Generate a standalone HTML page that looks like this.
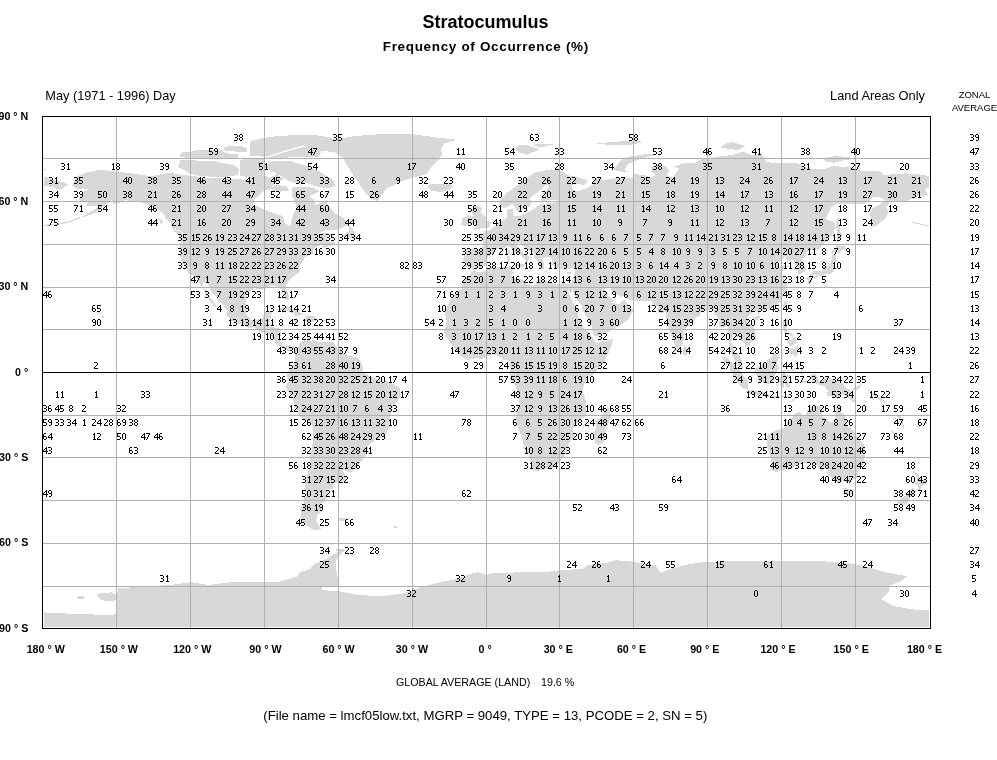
<!DOCTYPE html>
<html><head><meta charset="utf-8"><style>
html,body{margin:0;padding:0;background:#fff;}
body{width:997px;height:760px;overflow:hidden;position:relative;}
svg{position:absolute;left:0;top:0;font-family:"Liberation Sans",sans-serif;will-change:transform;}
.lat text{font-size:10.7px;font-weight:bold;text-anchor:end;}
.lon text{font-size:10.7px;font-weight:bold;text-anchor:middle;}
</style></head><body>
<svg width="997" height="760" viewBox="0 0 997 760">
<defs><path id="d0" d="M1 0h2v1h-2zM0 1h1v1h-1zM3 1h1v1h-1zM0 2h1v1h-1zM3 2h1v1h-1zM0 3h1v1h-1zM3 3h1v1h-1zM0 4h1v1h-1zM3 4h1v1h-1zM0 5h1v1h-1zM3 5h1v1h-1zM1 6h2v1h-2z"/><path id="d1" d="M2 0h1v1h-1zM1 1h2v1h-2zM2 2h1v1h-1zM2 3h1v1h-1zM2 4h1v1h-1zM2 5h1v1h-1zM1 6h3v1h-3z"/><path id="d2" d="M0 0h3v1h-3zM3 1h1v1h-1zM3 2h1v1h-1zM2 3h1v1h-1zM1 4h1v1h-1zM0 5h1v1h-1zM0 6h4v1h-4z"/><path id="d3" d="M0 0h3v1h-3zM3 1h1v1h-1zM3 2h1v1h-1zM1 3h2v1h-2zM3 4h1v1h-1zM3 5h1v1h-1zM0 6h3v1h-3z"/><path id="d4" d="M3 0h1v1h-1zM2 1h2v1h-2zM1 2h1v1h-1zM3 2h1v1h-1zM0 3h1v1h-1zM3 3h1v1h-1zM0 4h5v1h-5zM3 5h1v1h-1zM3 6h1v1h-1z"/><path id="d5" d="M0 0h4v1h-4zM0 1h1v1h-1zM0 2h1v1h-1zM0 3h3v1h-3zM3 4h1v1h-1zM3 5h1v1h-1zM0 6h3v1h-3z"/><path id="d6" d="M1 0h2v1h-2zM0 1h1v1h-1zM0 2h1v1h-1zM0 3h3v1h-3zM0 4h1v1h-1zM3 4h1v1h-1zM0 5h1v1h-1zM3 5h1v1h-1zM1 6h2v1h-2z"/><path id="d7" d="M0 0h4v1h-4zM3 1h1v1h-1zM2 2h1v1h-1zM2 3h1v1h-1zM1 4h1v1h-1zM1 5h1v1h-1zM0 6h1v1h-1z"/><path id="d8" d="M1 0h2v1h-2zM0 1h1v1h-1zM3 1h1v1h-1zM0 2h1v1h-1zM3 2h1v1h-1zM1 3h2v1h-2zM0 4h1v1h-1zM3 4h1v1h-1zM0 5h1v1h-1zM3 5h1v1h-1zM1 6h2v1h-2z"/><path id="d9" d="M1 0h2v1h-2zM0 1h1v1h-1zM3 1h1v1h-1zM0 2h1v1h-1zM3 2h1v1h-1zM1 3h3v1h-3zM3 4h1v1h-1zM3 5h1v1h-1zM1 6h2v1h-2z"/><clipPath id="mc"><rect x="44" y="117" width="885" height="510"/></clipPath></defs>
<g shape-rendering="crispEdges" clip-path="url(#mc)">
<polygon points="72.1,185.9 77.0,176.5 86.9,172.5 100.5,169.7 111.6,171.1 128.8,173.1 138.7,174.5 151.0,176.2 158.4,174.8 170.8,172.8 180.6,174.8 195.4,176.2 205.3,178.5 220.1,178.2 230.0,179.1 244.8,179.6 252.2,176.8 254.6,168.3 259.6,173.4 269.4,177.7 276.8,174.0 284.2,179.1 274.4,183.3 270.7,189.0 264.5,190.5 254.6,199.0 253.4,204.7 257.1,206.1 269.4,211.8 283.0,216.1 284.2,223.2 290.4,226.0 292.1,217.5 296.6,207.5 294.1,200.4 295.3,194.7 304.0,195.3 313.8,199.0 315.1,204.7 326.2,201.0 328.6,206.1 334.8,213.2 344.7,218.9 349.1,223.7 345.9,226.0 338.5,229.7 327.4,229.7 321.2,232.3 314.6,235.4 323.7,232.8 328.1,233.4 326.2,237.4 327.4,241.1 336.0,242.8 338.5,241.7 329.9,245.9 323.7,248.2 321.2,245.1 313.8,247.9 312.6,253.0 313.8,254.2 308.9,255.3 304.0,257.3 304.0,260.1 301.5,262.1 299.0,267.3 300.3,271.5 296.6,274.4 291.6,278.1 286.7,282.9 286.0,287.2 288.9,295.7 288.9,300.0 286.7,300.8 284.7,297.1 282.3,292.9 281.8,289.4 278.1,287.2 274.4,286.0 268.2,286.0 265.7,289.4 262.0,289.2 254.6,288.3 246.5,293.7 246.0,301.4 245.5,309.9 246.7,315.6 249.7,318.5 253.4,320.7 259.6,319.6 263.3,317.0 263.8,312.8 271.9,311.3 270.7,317.0 268.7,322.7 268.2,327.3 274.4,327.3 279.3,328.4 281.0,331.3 280.0,341.2 284.2,346.9 290.4,345.2 295.8,348.3 292.9,349.7 287.9,351.7 285.0,349.2 279.3,345.5 275.1,344.1 275.1,340.6 270.7,335.5 260.8,332.7 254.6,327.0 248.5,327.8 239.8,324.1 231.2,320.4 226.3,314.2 227.0,310.5 223.8,305.7 217.6,298.5 210.2,290.0 207.8,283.5 203.3,282.3 203.3,287.2 209.0,295.7 215.2,303.7 216.4,307.1 214.4,306.5 210.2,302.0 205.3,293.4 202.8,287.7 199.1,282.0 197.2,278.6 194.2,275.8 189.0,274.1 184.3,265.8 181.1,260.1 179.9,254.5 180.6,241.7 178.9,234.8 183.1,235.4 184.3,233.1 178.2,230.3 172.0,228.0 170.8,223.2 165.8,218.9 164.6,214.6 158.4,209.5 151.0,206.1 142.4,202.7 133.8,201.8 125.1,200.1 117.7,203.3 112.8,204.1 112.1,199.8 107.1,203.8 101.7,208.9 95.5,212.6 86.9,216.1 80.0,217.5 86.9,213.8 96.8,208.1 99.2,205.5 86.9,205.8 86.9,201.8 79.0,200.4 80.7,193.3 89.4,189.0 77.0,189.0" fill="#d8d8d8"/>
<polygon points="274.4,184.8 286.7,186.2 289.2,191.0 276.8,191.9 270.7,189.0" fill="#d8d8d8"/>
<polygon points="340.0,237.1 348.4,231.7 349.6,226.0 354.5,231.7 356.5,237.4 354.5,239.9 348.4,237.1" fill="#d8d8d8"/>
<polygon points="169.8,228.0 180.6,231.7 182.4,234.8 176.9,233.4" fill="#d8d8d8"/>
<polygon points="158.4,218.3 163.4,220.3 162.1,224.6 159.7,221.7" fill="#d8d8d8"/>
<polygon points="276.8,310.2 284.2,306.5 289.2,307.1 296.6,310.5 303.5,315.0 295.3,315.9 294.1,313.6 286.7,311.1 283.0,311.1" fill="#d8d8d8"/>
<polygon points="302.7,320.2 306.9,315.9 313.8,316.5 318.0,319.6 311.4,322.2" fill="#d8d8d8"/>
<polygon points="293.4,320.2 298.5,320.7 298.3,321.9 295.3,321.9" fill="#d8d8d8"/>
<polygon points="320.7,319.9 324.7,320.2 324.7,321.3 320.7,321.3" fill="#d8d8d8"/>
<polygon points="295.8,348.3 299.0,345.5 300.3,342.6 304.0,340.6 308.4,338.7 310.6,337.2 310.1,341.2 313.8,339.8 318.8,342.3 323.7,342.3 328.6,342.1 333.6,342.3 336.0,346.9 341.0,349.7 344.7,355.4 350.8,355.7 358.2,358.3 360.7,361.1 363.2,367.4 363.2,372.5 368.1,375.3 376.7,379.6 385.4,381.0 391.5,383.0 399.7,388.1 400.7,393.8 399.7,398.1 395.2,403.8 391.5,409.5 390.3,418.0 388.6,428.0 385.4,435.1 382.9,437.9 376.7,438.8 368.1,445.0 366.9,453.6 361.9,460.7 355.8,468.4 352.1,471.5 347.1,471.5 342.4,469.2 344.7,474.9 345.9,480.6 333.6,483.4 332.8,488.6 326.2,489.1 327.9,493.4 324.9,500.5 320.0,504.8 323.7,509.0 317.5,515.3 316.3,520.4 317.5,523.3 321.2,528.9 316.3,530.4 311.4,528.9 304.0,523.3 301.5,517.6 300.3,509.0 304.0,503.3 304.0,497.7 306.4,492.0 304.7,483.4 306.4,477.7 310.1,466.4 310.1,457.8 312.6,443.6 313.3,429.4 311.4,423.7 300.3,416.6 297.8,410.9 295.3,406.6 291.6,395.3 286.7,389.6 286.2,385.3 289.2,381.0 286.7,375.3 289.2,369.7 292.1,367.4 295.3,361.7 295.3,354.0 294.3,351.2" fill="#d8d8d8"/>
<polygon points="338.5,518.1 347.1,518.1 347.1,521.3 338.5,521.3" fill="#d8d8d8"/>
<polygon points="472.7,270.1 471.0,267.8 468.0,266.7 464.3,267.3 464.8,262.4 463.1,260.1 464.8,253.0 463.6,250.2 466.8,248.2 476.6,249.1 482.1,249.1 483.5,241.7 481.1,238.2 475.4,236.3 474.9,234.3 482.8,234.0 483.3,231.1 487.0,231.7 490.4,229.7 493.9,226.9 496.4,224.9 498.3,221.7 503.8,220.3 507.5,217.5 507.0,211.8 507.5,209.5 512.6,208.7 512.6,211.8 513.6,216.1 519.6,216.1 529.4,211.8 534.4,208.7 539.3,205.0 545.2,203.8 555.6,202.4 559.3,201.0 555.6,199.8 545.2,200.7 540.8,200.4 542.0,195.3 546.9,189.0 549.4,185.3 545.7,185.3 539.5,190.5 532.1,196.1 529.7,199.0 532.1,201.8 529.4,206.7 519.6,210.9 516.8,210.9 514.9,206.7 513.6,204.7 512.2,203.8 507.5,207.0 503.8,207.8 500.1,205.8 499.3,201.8 500.3,199.6 507.2,192.7 517.1,185.6 527.2,177.9 534.1,172.8 543.7,170.8 551.6,169.4 561.5,170.8 567.9,175.4 575.3,176.2 587.6,180.5 585.2,184.8 572.8,183.9 571.6,189.0 577.8,191.0 585.2,189.0 593.8,184.2 595.0,178.2 600.0,179.1 604.9,179.9 617.2,177.7 622.2,178.5 632.0,177.7 634.5,174.0 644.4,175.1 651.8,177.7 655.5,174.8 651.0,171.4 650.5,167.7 656.7,164.9 665.3,166.0 669.0,170.5 666.6,176.2 672.7,177.7 678.9,169.1 674.0,166.3 683.8,163.4 696.2,162.6 701.1,159.2 720.8,156.3 733.2,154.9 743.0,151.5 750.4,154.9 762.8,155.5 766.5,162.0 777.6,163.4 792.4,162.9 799.8,163.7 804.7,167.7 812.1,169.1 824.4,169.1 831.8,166.3 849.1,166.8 861.4,171.1 873.8,170.5 881.2,172.0 883.6,174.8 896.0,174.2 905.8,173.4 915.7,174.0 925.6,175.4 931.7,176.5 931.7,187.3 925.6,188.5 924.3,189.0 926.8,191.9 928.0,195.3 920.6,195.6 915.7,196.7 908.3,200.1 905.8,201.8 896.0,201.5 889.8,202.4 886.1,207.5 888.6,211.8 886.1,217.5 881.2,221.7 877.5,224.6 873.0,227.4 871.3,221.7 870.1,213.2 872.5,208.1 877.5,206.1 884.9,200.4 881.2,197.6 873.8,197.0 866.4,203.3 859.0,204.1 846.6,203.5 836.8,204.1 831.8,206.7 825.7,218.9 833.1,221.7 835.5,224.6 833.1,234.5 826.9,240.2 819.5,248.8 812.1,250.2 807.2,251.6 805.9,255.9 802.2,258.7 801.0,260.1 805.9,267.3 805.4,271.5 799.8,274.1 798.0,274.4 798.5,265.8 794.8,264.4 794.1,259.3 787.4,261.6 785.5,256.4 780.0,261.0 777.1,263.8 780.0,267.0 784.2,265.0 788.7,266.7 783.2,270.1 780.5,272.9 783.7,278.6 786.9,282.3 787.2,284.9 787.4,287.7 786.2,291.4 782.5,297.1 781.3,300.8 776.3,305.4 772.6,307.6 766.5,309.4 760.3,311.3 758.6,314.8 757.1,311.3 752.9,311.3 749.2,314.8 747.2,318.5 749.7,323.3 754.9,329.0 756.1,338.4 754.1,341.2 750.4,342.9 749.2,345.2 745.5,348.0 745.0,343.2 741.8,342.3 739.3,337.8 735.1,336.1 733.2,334.1 731.2,342.6 732.9,346.3 734.2,351.7 736.4,353.2 739.3,355.4 741.6,359.7 741.8,364.5 743.5,368.5 741.8,368.8 736.4,364.5 733.9,358.3 729.0,349.7 729.0,344.3 729.7,338.4 727.5,325.6 721.8,327.6 718.9,326.7 719.6,319.9 717.1,317.0 714.2,313.6 712.9,309.1 709.7,309.9 705.5,311.1 701.1,311.3 699.9,315.6 696.2,317.6 692.0,322.7 689.3,325.3 684.6,328.4 684.3,334.1 683.3,343.2 681.1,346.3 677.7,349.7 675.2,347.2 673.5,339.8 670.8,334.1 667.8,327.0 666.1,317.0 665.8,312.2 660.4,313.3 656.7,309.1 659.7,307.4 655.5,305.4 653.0,304.2 651.0,300.5 645.6,300.8 638.4,300.8 631.5,300.0 627.8,299.1 625.9,295.4 620.9,296.8 614.8,293.4 611.8,290.3 610.3,286.9 606.1,287.2 604.9,288.6 606.1,292.3 608.6,295.7 610.3,298.0 613.5,298.8 612.3,302.5 616.0,303.7 619.7,303.9 624.6,298.5 625.6,302.0 629.1,305.1 632.0,308.5 634.0,309.1 630.8,314.5 628.8,318.5 625.4,321.6 622.2,324.1 615.3,328.1 607.4,332.4 597.5,336.1 593.8,336.4 592.6,331.3 591.8,325.6 588.9,319.9 585.2,314.2 582.7,310.5 581.5,305.4 577.8,300.0 573.3,292.9 572.6,288.6 570.9,293.4 569.1,291.4 566.9,287.5 566.2,283.8 570.9,283.5 572.8,279.2 575.1,272.9 575.3,268.4 571.6,267.8 566.7,269.8 561.7,269.2 556.8,267.8 553.8,265.8 551.4,263.6 551.9,260.1 551.1,258.4 551.4,257.0 545.7,256.7 544.5,258.2 542.2,257.3 543.2,260.7 544.5,264.4 543.5,268.7 542.0,269.0 540.0,267.8 538.5,265.0 539.0,263.3 536.3,259.9 534.4,257.6 534.6,253.9 532.1,251.6 527.2,248.8 523.7,246.5 520.0,244.2 520.5,242.8 516.8,243.6 517.3,245.9 520.0,248.8 522.8,252.7 526.5,254.7 532.1,258.2 529.7,257.9 528.4,260.7 526.2,264.4 525.2,264.4 525.5,259.9 523.5,258.2 520.3,255.3 516.6,253.6 513.6,251.6 512.4,248.8 508.7,246.2 505.5,247.9 501.3,249.9 497.6,248.8 494.4,249.6 494.4,253.3 489.0,255.9 487.7,257.3 485.8,260.1 487.0,262.4 484.8,265.5 481.3,268.1 475.6,268.1" fill="#d8d8d8"/>
<polygon points="41.3,176.5 47.4,177.4 54.8,180.2 62.2,181.9 67.9,184.5 64.7,186.8 61.5,189.3 58.5,189.3 52.4,187.0 46.2,186.2 41.3,187.3" fill="#d8d8d8"/>
<polygon points="566.9,287.5 569.1,294.3 574.1,304.2 578.3,312.8 578.8,319.9 581.7,321.9 583.4,327.6 587.6,331.5 591.3,335.5 593.3,338.7 596.3,342.9 602.4,340.9 608.6,340.4 612.8,338.9 612.3,342.9 611.1,346.9 606.1,358.3 600.0,366.8 593.8,373.9 588.9,377.6 585.2,382.5 582.7,389.6 583.9,395.3 586.4,402.4 586.4,415.2 577.8,422.3 572.8,429.4 574.1,436.5 567.9,445.0 567.2,450.7 563.0,457.8 555.6,466.4 549.4,469.2 540.8,469.8 535.8,471.5 532.1,469.8 530.9,463.5 529.2,455.0 524.7,449.3 522.3,437.9 518.6,429.4 515.6,422.3 516.8,412.3 519.8,406.6 519.1,399.5 516.6,389.6 516.1,386.7 509.9,378.2 509.4,372.5 510.4,365.4 510.2,361.7 507.5,359.7 503.8,360.0 498.8,356.0 493.2,354.6 489.0,355.7 481.6,359.1 476.6,357.7 468.0,360.0 464.3,358.3 458.1,352.9 453.7,347.5 449.5,341.5 445.3,337.2 444.1,330.7 445.8,326.4 447.0,321.3 445.8,317.0 444.6,312.8 448.3,304.2 451.5,297.4 454.4,293.7 461.8,288.6 462.6,282.9 465.5,277.8 469.7,275.5 471.9,270.7 481.6,272.7 489.0,268.7 495.1,267.8 503.8,267.0 510.7,266.4 513.6,267.3 511.7,271.5 513.6,272.4 511.2,275.8 514.9,278.1 518.6,278.9 524.2,280.6 525.2,283.2 533.4,286.3 535.8,284.3 535.8,280.9 539.5,279.2 543.2,279.8 548.2,282.3 558.0,284.6 563.0,282.6 566.2,283.8" fill="#d8d8d8"/>
<polygon points="472.4,230.3 479.1,228.6 486.5,228.0 490.0,226.6 490.7,222.6 487.2,220.6 486.0,217.5 482.6,214.3 480.3,212.6 482.1,208.7 478.4,205.8 474.2,205.8 472.4,208.9 471.2,211.8 472.9,214.9 474.4,216.1 479.1,216.3 478.1,218.0 479.1,220.9 475.2,220.9 476.1,224.0 473.7,225.4 476.6,226.6" fill="#d8d8d8"/>
<polygon points="471.7,224.0 471.7,220.3 472.9,217.5 468.5,215.2 465.5,217.2 461.8,218.3 461.8,221.7 461.1,225.2 465.5,225.7 470.7,224.0" fill="#d8d8d8"/>
<polygon points="431.0,190.5 427.3,186.2 432.2,183.6 442.1,184.2 450.7,183.9 453.0,187.0 449.5,189.6 440.9,192.2 434.7,191.0" fill="#d8d8d8"/>
<polygon points="513.6,149.2 518.6,145.5 526.0,144.9 530.9,146.4 539.5,149.2 533.4,152.1 527.2,154.9 521.0,152.9" fill="#d8d8d8"/>
<polygon points="530.9,146.1 538.3,143.5 553.1,144.4 543.2,146.9" fill="#d8d8d8"/>
<polygon points="597.5,143.5 609.8,142.1 634.5,140.7 644.4,142.1 629.6,144.9 609.8,145.2" fill="#d8d8d8"/>
<polygon points="613.5,169.1 618.5,163.4 623.4,158.6 629.6,156.6 639.4,155.2 649.3,153.8 656.2,154.6 646.8,157.2 637.0,160.0 629.6,163.4 625.9,166.3 624.6,170.5 628.3,171.7 617.2,171.4" fill="#d8d8d8"/>
<polygon points="720.8,147.8 725.8,143.5 733.2,142.1 745.5,146.4 738.1,149.8 730.7,149.2" fill="#d8d8d8"/>
<polygon points="822.0,158.3 836.8,155.8 851.6,157.7 859.0,158.6 846.6,159.7 834.3,162.6 826.9,162.0" fill="#d8d8d8"/>
<polygon points="926.8,170.0 931.7,168.8 931.7,170.8" fill="#d8d8d8"/>
<polygon points="41.3,168.8 48.7,170.0 41.3,170.8" fill="#d8d8d8"/>
<polygon points="838.5,217.8 839.7,224.6 840.5,231.7 843.4,234.3 839.2,238.8 840.5,241.4 836.8,241.7 836.5,238.8 836.8,230.3 835.8,224.6 836.8,220.3" fill="#d8d8d8"/>
<polygon points="831.3,252.5 833.1,249.6 835.5,249.3 836.3,243.4 839.2,245.9 844.9,246.5 846.1,249.3 841.7,250.5 840.0,253.0 834.3,251.6 832.3,254.5" fill="#d8d8d8"/>
<polygon points="835.5,254.5 836.8,260.1 834.3,263.6 834.3,268.7 833.8,271.5 831.3,272.9 828.9,274.1 824.4,274.1 822.0,277.2 819.5,274.9 814.6,274.9 809.6,275.8 809.6,274.4 813.3,271.5 817.0,271.2 822.0,270.7 823.9,266.4 828.1,265.8 830.6,263.0 831.8,258.7 831.8,255.0" fill="#d8d8d8"/>
<polygon points="807.2,276.6 811.6,276.4 812.1,280.1 810.4,283.5 808.4,284.3 807.7,280.1 806.4,278.6" fill="#d8d8d8"/>
<polygon points="813.6,275.8 818.3,275.2 818.8,276.4 817.0,277.8 814.6,279.2 813.3,277.8" fill="#d8d8d8"/>
<polygon points="782.7,307.1 785.0,300.8 787.4,301.4 786.2,307.1 784.5,310.2" fill="#d8d8d8"/>
<polygon points="754.4,317.6 759.1,315.3 760.3,316.7 757.8,320.4 754.6,319.9" fill="#d8d8d8"/>
<polygon points="782.5,319.9 788.2,319.9 787.9,324.1 786.2,328.4 787.4,332.7 792.4,333.2 792.9,336.7 789.9,335.5 786.2,333.2 784.0,332.1 782.5,327.0" fill="#d8d8d8"/>
<polygon points="787.4,352.6 791.1,348.0 793.6,348.3 797.3,345.5 798.5,351.2 797.3,354.9 795.6,356.6 792.4,354.0 787.9,353.2" fill="#d8d8d8"/>
<polygon points="787.2,338.7 791.1,339.8 793.1,336.9 796.1,337.5 796.6,341.2 794.8,344.1 791.1,346.3 788.7,344.6 787.2,342.6" fill="#d8d8d8"/>
<polygon points="775.6,348.6 781.3,342.6 781.8,340.4 778.8,343.2" fill="#d8d8d8"/>
<polygon points="755.4,368.2 760.3,365.4 765.2,363.4 767.7,359.7 771.4,357.7 774.4,352.9 776.8,355.4 780.5,357.7 777.6,360.3 776.8,363.4 779.5,369.1 777.1,370.5 775.1,375.3 773.9,378.2 773.9,382.5 768.9,383.9 762.8,382.5 758.3,381.0 757.8,376.8 755.4,372.5" fill="#d8d8d8"/>
<polygon points="721.6,356.6 727.0,357.7 733.2,364.0 736.1,366.8 741.8,372.5 743.0,375.3 748.0,381.0 747.7,389.0 744.3,389.3 738.8,383.9 735.4,378.2 730.7,371.9 729.5,367.4 724.5,362.5" fill="#d8d8d8"/>
<polygon points="746.0,391.8 748.0,389.3 753.6,390.1 759.1,392.1 764.2,392.1 769.2,394.4 768.7,397.2 760.3,395.8 752.9,394.7 746.7,392.4" fill="#d8d8d8"/>
<polygon points="770.2,395.8 780.0,395.8 789.9,395.8 789.9,397.2 780.0,397.5 770.2,397.5" fill="#d8d8d8"/>
<polygon points="791.1,401.5 794.8,398.1 800.5,396.4 794.8,399.5 792.4,401.5" fill="#d8d8d8"/>
<polygon points="779.5,380.5 781.3,373.9 783.7,370.2 789.9,369.9 795.1,367.9 793.6,371.4 785.0,371.4 785.7,375.3 790.9,375.1 786.4,377.9 788.4,382.2 789.9,385.3 787.4,387.9 785.0,383.9 783.5,380.5 783.5,388.1 781.0,388.4" fill="#d8d8d8"/>
<polygon points="801.0,366.8 803.5,368.2 802.2,372.5 803.5,375.3 801.0,373.9 801.0,369.7" fill="#d8d8d8"/>
<polygon points="802.2,381.0 809.1,381.6 808.4,383.3 802.2,382.7" fill="#d8d8d8"/>
<polygon points="809.6,376.2 813.3,373.6 817.0,375.1 819.5,381.9 826.7,376.8 834.3,379.9 842.9,383.3 846.1,388.1 850.3,390.1 851.1,395.3 853.3,398.7 856.5,401.8 851.6,401.5 847.9,397.5 841.7,394.4 839.2,398.7 834.3,398.4 829.4,395.8 826.9,396.4 826.4,392.4 828.9,391.8 824.4,386.2 819.5,385.0 815.3,383.3 812.1,380.5" fill="#d8d8d8"/>
<polygon points="852.8,388.1 856.5,386.7 860.2,384.7 861.9,384.4 860.2,388.1 856.5,390.1 852.8,389.6" fill="#d8d8d8"/>
<polygon points="683.3,354.9 683.3,349.2 684.1,344.6 686.3,348.3 688.5,351.7 686.8,354.9 685.1,355.7" fill="#d8d8d8"/>
<polygon points="608.1,406.6 611.1,416.0 609.3,420.9 606.1,429.4 603.7,442.2 598.0,445.3 595.0,442.2 593.3,435.1 596.0,428.0 595.0,420.9 600.7,417.4 604.9,410.9" fill="#d8d8d8"/>
<polygon points="767.7,434.5 774.4,431.1 780.0,429.4 785.0,428.0 787.9,421.7 791.1,419.4 794.8,413.7 799.3,411.8 802.2,415.2 805.9,414.9 807.9,408.9 810.9,407.2 813.3,405.2 815.8,406.1 820.7,406.6 823.9,407.2 822.0,410.0 820.7,415.2 824.4,418.0 830.1,422.0 833.8,422.0 835.5,415.2 835.8,408.3 838.0,402.9 840.5,408.1 841.2,412.3 844.9,415.2 845.4,419.4 847.4,426.0 853.5,430.2 856.5,435.9 859.0,439.3 864.1,445.0 865.4,453.6 863.9,460.7 862.7,464.9 859.7,468.6 856.5,477.7 851.6,480.0 847.4,483.4 843.4,480.6 840.5,482.9 833.1,480.6 830.6,476.3 826.9,473.8 828.1,470.6 826.4,466.4 822.0,471.5 820.7,471.5 817.5,465.8 809.6,462.1 802.2,463.5 794.8,465.8 792.4,468.6 787.4,469.2 781.3,470.1 777.1,472.1 770.2,470.1 771.9,463.5 770.2,456.4 767.7,447.9 766.5,443.6" fill="#d8d8d8"/>
<polygon points="843.2,488.3 852.3,488.8 852.1,492.5 849.1,496.5 846.6,496.2 844.7,492.5" fill="#d8d8d8"/>
<polygon points="912.5,470.3 916.9,473.5 919.4,476.3 920.6,479.5 926.8,479.7 925.6,484.0 923.1,484.9 921.9,487.4 918.9,490.8 917.2,490.0 918.2,485.7 915.2,484.0 917.2,480.6 916.4,476.3 913.2,472.6" fill="#d8d8d8"/>
<polygon points="912.5,487.7 916.4,490.8 914.5,493.4 912.5,496.8 909.0,499.1 907.6,502.8 904.1,505.1 897.2,503.6 897.9,501.1 901.6,497.7 907.1,494.8 909.5,491.4" fill="#d8d8d8"/>
<polygon points="265.7,582.4 280.0,581.6 292.1,578.2 298.0,576.2 300.0,572.2 310.1,569.1 314.1,564.2 323.7,560.2 328.9,557.4 338.0,551.7 346.6,549.1 340.2,554.3 336.3,560.2 336.3,570.2 338.3,582.1 337.3,586.7 322.2,587.3 322.2,590.1 338.3,591.2 360.2,595.2 380.2,596.1 390.3,595.2 404.4,593.2 420.4,587.3 440.4,582.1 460.6,578.2 470.0,573.9 477.6,572.2 486.5,575.0 494.9,572.7 545.2,572.2 560.3,570.2 582.9,568.8 587.9,565.1 607.9,562.5 615.5,560.2 630.6,561.4 645.6,563.9 655.5,565.1 660.6,572.7 670.5,568.8 690.7,563.9 700.1,562.5 708.3,562.2 735.4,560.8 782.5,561.1 817.8,560.8 850.8,563.6 864.9,565.9 883.9,571.9 907.3,576.4 900.4,581.3 888.6,586.1 888.6,591.8 881.4,598.9 893.3,606.0 912.2,609.4 931.7,610.6 931.7,631.3 41.3,631.3 41.3,612.3 70.1,613.7 112.3,615.1 116.7,613.7 116.7,597.2 118.2,588.1 145.4,586.7 175.5,584.4 190.5,582.1 208.5,585.0 235.6,581.6" fill="#d8d8d8"/>
<polygon points="96.8,593.8 111.6,592.4 116.5,594.4 116.5,600.1 106.6,601.5 99.2,598.6" fill="#d8d8d8"/>
<polygon points="77.0,596.6 84.4,596.1 84.4,598.9 77.0,599.5" fill="#d8d8d8"/>
<polygon points="517.1,264.1 525.0,263.6 523.7,268.1 517.1,265.5" fill="#d8d8d8"/>
<polygon points="507.2,255.9 510.2,255.6 510.4,261.0 507.5,261.9" fill="#d8d8d8"/>
<polygon points="507.7,250.5 509.7,250.2 509.9,254.5 508.0,254.2" fill="#d8d8d8"/>
<polygon points="544.5,271.2 551.4,272.1 550.6,272.9 544.5,272.1" fill="#d8d8d8"/>
<polygon points="566.2,272.7 571.8,271.2 570.4,274.1 567.2,273.8" fill="#d8d8d8"/>
<polygon points="300.0,144.1 318.8,141.2 336.0,139.3 354.3,136.1 381.2,134.1 412.0,134.1 435.4,137.3 457.1,139.8 444.3,143.5 440.9,148.9 442.6,154.3 437.2,161.4 430.0,168.8 426.3,174.2 412.0,177.9 401.2,181.4 386.6,188.5 381.2,195.9 377.7,201.3 372.3,199.3 364.9,192.2 357.7,181.4 352.3,174.2 346.9,165.1 343.2,158.0 336.0,152.6 321.7,150.6 308.9,147.2" fill="#d8d8d8"/>
<polygon points="471.7,225.2 479.1,226.0 479.1,216.6 472.9,215.5 471.2,218.9" fill="#d8d8d8"/>
<polygon points="891.0,430.0 898.4,435.6 897.2,436.8 890.0,431.1" fill="#d8d8d8"/>
<polygon points="868.8,389.6 873.8,393.8 881.2,398.1 886.1,402.4 884.9,403.2 879.9,400.4 873.8,396.1 868.3,391.0" fill="#d8d8d8"/>
<polygon points="923.1,422.3 926.8,422.3 926.8,424.6 923.8,424.3" fill="#d8d8d8"/>
<polygon points="897.2,413.7 900.9,416.6 904.6,428.0 903.4,428.8 899.7,419.4 897.2,416.6" fill="#d8d8d8"/>
<polygon points="392.8,526.1 397.7,526.7 398.2,528.4 394.0,527.8" fill="#d8d8d8"/>
<polygon points="370.6,544.6 375.5,544.6 375.5,546.0 370.6,546.0" fill="#d8d8d8"/>
<polygon points="336.0,548.9 345.9,549.7 345.9,551.1 336.0,551.1" fill="#d8d8d8"/>
<polygon points="101.7,315.0 104.2,315.9 104.2,318.2 101.7,317.9" fill="#d8d8d8"/>
<polygon points="96.0,311.1 100.5,312.8 101.2,313.9 97.8,312.5" fill="#d8d8d8"/>
<polygon points="80.0,217.2 67.2,221.7 54.8,224.0 41.3,224.9 41.3,226.0 54.8,225.4 67.2,223.2 79.5,218.6" fill="#d8d8d8"/>
<polygon points="912.0,221.7 925.6,224.6 931.7,224.9 931.7,226.0 925.6,225.7 912.0,222.9" fill="#d8d8d8"/>
<polygon points="177.7,166.8 180.4,160.5 189.9,159.6 200.0,161.0 213.0,160.5 220.0,162.5 228.0,164.0 236.0,166.0 239.0,170.0 238.0,175.0 228.0,176.5 212.0,176.7 200.0,176.0 191.0,174.0 185.0,170.4" fill="#d8d8d8"/>
<polygon points="179.5,155.0 182.0,152.4 190.0,152.4 196.0,150.0 210.0,149.7 222.0,150.5 226.0,153.3 238.0,154.0 238.2,157.8 225.0,158.0 210.0,158.0 195.0,158.3 185.0,157.5 180.0,157.0" fill="#d8d8d8"/>
<polygon points="223.7,148.0 230.0,145.6 240.0,146.0 247.2,148.0 247.0,151.5 235.0,151.5 225.0,151.0" fill="#d8d8d8"/>
<polygon points="250.0,142.9 252.3,140.6 261.4,138.3 272.9,136.6 290.0,135.4 307.2,134.9 318.0,135.5 330.0,137.5 336.1,140.0 322.0,142.0 310.8,143.6 297.0,147.0 284.3,150.9 272.0,155.0 265.0,156.8 250.0,155.5" fill="#d8d8d8"/>
<polygon points="266.0,158.3 272.9,155.8 285.0,152.0 297.0,148.5 310.8,145.5 320.0,146.0 321.7,150.7 318.6,157.2 304.9,156.6 284.3,157.7" fill="#d8d8d8"/>
<polygon points="268.1,161.6 290.2,161.1 303.4,164.9 317.7,170.4 328.8,177.1 334.3,181.5 334.8,187.0 325.5,188.1 314.4,185.9 305.6,182.6 296.8,183.7 288.0,180.4 279.1,174.9 271.4,171.5 267.0,167.1" fill="#d8d8d8"/>
<polygon points="292.4,187.0 305.6,187.0 314.4,188.1 318.8,191.4 312.2,194.7 306.7,199.1 296.8,201.3 292.4,196.9" fill="#d8d8d8"/>
<polygon points="240.0,160.0 250.0,158.5 263.7,159.4 266.0,165.0 265.0,172.0 262.0,177.0 250.0,177.0 240.0,176.0" fill="#d8d8d8"/>
<polygon points="251.7,142.0 258.0,140.6 265.0,143.0 264.0,149.7 255.0,149.7" fill="#d8d8d8"/>
</g>
<g shape-rendering="crispEdges" stroke-width="1" fill="none">
<path d="M116.5 116V629" stroke="#b0b0b0"/>
<path d="M190.5 116V629" stroke="#b0b0b0"/>
<path d="M264.5 116V629" stroke="#b0b0b0"/>
<path d="M338.5 116V629" stroke="#b0b0b0"/>
<path d="M412.5 116V629" stroke="#b0b0b0"/>
<path d="M486.5 116V629" stroke="#b0b0b0"/>
<path d="M559.5 116V629" stroke="#b0b0b0"/>
<path d="M633.5 116V629" stroke="#b0b0b0"/>
<path d="M707.5 116V629" stroke="#b0b0b0"/>
<path d="M781.5 116V629" stroke="#b0b0b0"/>
<path d="M855.5 116V629" stroke="#b0b0b0"/>
<path d="M42 158.5H931" stroke="#b0b0b0"/>
<path d="M42 201.5H931" stroke="#b0b0b0"/>
<path d="M42 244.5H931" stroke="#b0b0b0"/>
<path d="M42 287.5H931" stroke="#b0b0b0"/>
<path d="M42 329.5H931" stroke="#b0b0b0"/>
<path d="M42 415.5H931" stroke="#b0b0b0"/>
<path d="M42 457.5H931" stroke="#b0b0b0"/>
<path d="M42 500.5H931" stroke="#b0b0b0"/>
<path d="M42 543.5H931" stroke="#b0b0b0"/>
<path d="M42 586.5H931" stroke="#b0b0b0"/>
<path d="M42 372.5H931" stroke="#000"/>
<rect x="42.5" y="116.5" width="888" height="512" fill="none" stroke="#000"/>
</g>
<g shape-rendering="crispEdges" fill="#000">
<use href="#d3" x="234" y="134"/><use href="#d8" x="239" y="134"/>
<use href="#d3" x="333" y="134"/><use href="#d5" x="338" y="134"/>
<use href="#d6" x="530" y="134"/><use href="#d3" x="535" y="134"/>
<use href="#d5" x="629" y="134"/><use href="#d8" x="634" y="134"/>
<use href="#d5" x="209" y="148"/><use href="#d9" x="214" y="148"/>
<use href="#d4" x="308" y="148"/><use href="#d7" x="313" y="148"/>
<use href="#d1" x="456" y="148"/><use href="#d1" x="461" y="148"/>
<use href="#d5" x="505" y="148"/><use href="#d4" x="510" y="148"/>
<use href="#d3" x="555" y="148"/><use href="#d3" x="560" y="148"/>
<use href="#d5" x="653" y="148"/><use href="#d3" x="658" y="148"/>
<use href="#d4" x="703" y="148"/><use href="#d6" x="708" y="148"/>
<use href="#d4" x="752" y="148"/><use href="#d1" x="757" y="148"/>
<use href="#d3" x="801" y="148"/><use href="#d8" x="806" y="148"/>
<use href="#d4" x="851" y="148"/><use href="#d0" x="856" y="148"/>
<use href="#d3" x="61" y="163"/><use href="#d1" x="66" y="163"/>
<use href="#d1" x="111" y="163"/><use href="#d8" x="116" y="163"/>
<use href="#d3" x="160" y="163"/><use href="#d9" x="165" y="163"/>
<use href="#d5" x="259" y="163"/><use href="#d1" x="264" y="163"/>
<use href="#d5" x="308" y="163"/><use href="#d4" x="313" y="163"/>
<use href="#d1" x="407" y="163"/><use href="#d7" x="412" y="163"/>
<use href="#d4" x="456" y="163"/><use href="#d0" x="461" y="163"/>
<use href="#d3" x="505" y="163"/><use href="#d5" x="510" y="163"/>
<use href="#d2" x="555" y="163"/><use href="#d8" x="560" y="163"/>
<use href="#d3" x="604" y="163"/><use href="#d4" x="609" y="163"/>
<use href="#d3" x="653" y="163"/><use href="#d8" x="658" y="163"/>
<use href="#d3" x="703" y="163"/><use href="#d5" x="708" y="163"/>
<use href="#d3" x="752" y="163"/><use href="#d1" x="757" y="163"/>
<use href="#d3" x="801" y="163"/><use href="#d1" x="806" y="163"/>
<use href="#d2" x="851" y="163"/><use href="#d7" x="856" y="163"/>
<use href="#d2" x="900" y="163"/><use href="#d0" x="905" y="163"/>
<use href="#d3" x="49" y="177"/><use href="#d1" x="54" y="177"/>
<use href="#d3" x="74" y="177"/><use href="#d5" x="79" y="177"/>
<use href="#d4" x="123" y="177"/><use href="#d0" x="128" y="177"/>
<use href="#d3" x="148" y="177"/><use href="#d8" x="153" y="177"/>
<use href="#d3" x="172" y="177"/><use href="#d5" x="177" y="177"/>
<use href="#d4" x="197" y="177"/><use href="#d6" x="202" y="177"/>
<use href="#d4" x="222" y="177"/><use href="#d3" x="227" y="177"/>
<use href="#d4" x="246" y="177"/><use href="#d1" x="251" y="177"/>
<use href="#d4" x="271" y="177"/><use href="#d5" x="276" y="177"/>
<use href="#d3" x="296" y="177"/><use href="#d2" x="301" y="177"/>
<use href="#d3" x="320" y="177"/><use href="#d3" x="325" y="177"/>
<use href="#d2" x="345" y="177"/><use href="#d8" x="350" y="177"/>
<use href="#d6" x="372" y="177"/>
<use href="#d9" x="396" y="177"/>
<use href="#d3" x="419" y="177"/><use href="#d2" x="424" y="177"/>
<use href="#d2" x="444" y="177"/><use href="#d3" x="449" y="177"/>
<use href="#d3" x="518" y="177"/><use href="#d0" x="523" y="177"/>
<use href="#d2" x="542" y="177"/><use href="#d6" x="547" y="177"/>
<use href="#d2" x="567" y="177"/><use href="#d2" x="572" y="177"/>
<use href="#d2" x="592" y="177"/><use href="#d7" x="597" y="177"/>
<use href="#d2" x="616" y="177"/><use href="#d7" x="621" y="177"/>
<use href="#d2" x="641" y="177"/><use href="#d5" x="646" y="177"/>
<use href="#d2" x="666" y="177"/><use href="#d4" x="671" y="177"/>
<use href="#d1" x="690" y="177"/><use href="#d9" x="695" y="177"/>
<use href="#d1" x="715" y="177"/><use href="#d3" x="720" y="177"/>
<use href="#d2" x="740" y="177"/><use href="#d4" x="745" y="177"/>
<use href="#d2" x="764" y="177"/><use href="#d6" x="769" y="177"/>
<use href="#d1" x="789" y="177"/><use href="#d7" x="794" y="177"/>
<use href="#d2" x="814" y="177"/><use href="#d4" x="819" y="177"/>
<use href="#d1" x="838" y="177"/><use href="#d3" x="843" y="177"/>
<use href="#d1" x="863" y="177"/><use href="#d7" x="868" y="177"/>
<use href="#d2" x="888" y="177"/><use href="#d1" x="893" y="177"/>
<use href="#d2" x="912" y="177"/><use href="#d1" x="917" y="177"/>
<use href="#d3" x="49" y="191"/><use href="#d4" x="54" y="191"/>
<use href="#d3" x="74" y="191"/><use href="#d9" x="79" y="191"/>
<use href="#d5" x="98" y="191"/><use href="#d0" x="103" y="191"/>
<use href="#d3" x="123" y="191"/><use href="#d8" x="128" y="191"/>
<use href="#d2" x="148" y="191"/><use href="#d1" x="153" y="191"/>
<use href="#d2" x="172" y="191"/><use href="#d6" x="177" y="191"/>
<use href="#d2" x="197" y="191"/><use href="#d8" x="202" y="191"/>
<use href="#d4" x="222" y="191"/><use href="#d4" x="227" y="191"/>
<use href="#d4" x="246" y="191"/><use href="#d7" x="251" y="191"/>
<use href="#d5" x="271" y="191"/><use href="#d2" x="276" y="191"/>
<use href="#d6" x="296" y="191"/><use href="#d5" x="301" y="191"/>
<use href="#d6" x="320" y="191"/><use href="#d7" x="325" y="191"/>
<use href="#d1" x="345" y="191"/><use href="#d5" x="350" y="191"/>
<use href="#d2" x="370" y="191"/><use href="#d6" x="375" y="191"/>
<use href="#d4" x="419" y="191"/><use href="#d8" x="424" y="191"/>
<use href="#d4" x="444" y="191"/><use href="#d4" x="449" y="191"/>
<use href="#d3" x="468" y="191"/><use href="#d5" x="473" y="191"/>
<use href="#d2" x="493" y="191"/><use href="#d0" x="498" y="191"/>
<use href="#d2" x="518" y="191"/><use href="#d2" x="523" y="191"/>
<use href="#d2" x="542" y="191"/><use href="#d0" x="547" y="191"/>
<use href="#d1" x="567" y="191"/><use href="#d6" x="572" y="191"/>
<use href="#d1" x="592" y="191"/><use href="#d9" x="597" y="191"/>
<use href="#d2" x="616" y="191"/><use href="#d1" x="621" y="191"/>
<use href="#d1" x="641" y="191"/><use href="#d5" x="646" y="191"/>
<use href="#d1" x="666" y="191"/><use href="#d8" x="671" y="191"/>
<use href="#d1" x="690" y="191"/><use href="#d9" x="695" y="191"/>
<use href="#d1" x="715" y="191"/><use href="#d4" x="720" y="191"/>
<use href="#d1" x="740" y="191"/><use href="#d7" x="745" y="191"/>
<use href="#d1" x="764" y="191"/><use href="#d3" x="769" y="191"/>
<use href="#d1" x="789" y="191"/><use href="#d6" x="794" y="191"/>
<use href="#d1" x="814" y="191"/><use href="#d7" x="819" y="191"/>
<use href="#d1" x="838" y="191"/><use href="#d9" x="843" y="191"/>
<use href="#d2" x="863" y="191"/><use href="#d7" x="868" y="191"/>
<use href="#d3" x="888" y="191"/><use href="#d0" x="893" y="191"/>
<use href="#d3" x="912" y="191"/><use href="#d1" x="917" y="191"/>
<use href="#d5" x="49" y="205"/><use href="#d5" x="54" y="205"/>
<use href="#d7" x="74" y="205"/><use href="#d1" x="79" y="205"/>
<use href="#d5" x="98" y="205"/><use href="#d4" x="103" y="205"/>
<use href="#d4" x="148" y="205"/><use href="#d6" x="153" y="205"/>
<use href="#d2" x="172" y="205"/><use href="#d1" x="177" y="205"/>
<use href="#d2" x="197" y="205"/><use href="#d0" x="202" y="205"/>
<use href="#d2" x="222" y="205"/><use href="#d7" x="227" y="205"/>
<use href="#d3" x="246" y="205"/><use href="#d4" x="251" y="205"/>
<use href="#d4" x="296" y="205"/><use href="#d4" x="301" y="205"/>
<use href="#d6" x="320" y="205"/><use href="#d0" x="325" y="205"/>
<use href="#d5" x="468" y="205"/><use href="#d6" x="473" y="205"/>
<use href="#d2" x="493" y="205"/><use href="#d1" x="498" y="205"/>
<use href="#d1" x="518" y="205"/><use href="#d9" x="523" y="205"/>
<use href="#d1" x="542" y="205"/><use href="#d3" x="547" y="205"/>
<use href="#d1" x="567" y="205"/><use href="#d5" x="572" y="205"/>
<use href="#d1" x="592" y="205"/><use href="#d4" x="597" y="205"/>
<use href="#d1" x="616" y="205"/><use href="#d1" x="621" y="205"/>
<use href="#d1" x="641" y="205"/><use href="#d4" x="646" y="205"/>
<use href="#d1" x="666" y="205"/><use href="#d2" x="671" y="205"/>
<use href="#d1" x="690" y="205"/><use href="#d3" x="695" y="205"/>
<use href="#d1" x="715" y="205"/><use href="#d0" x="720" y="205"/>
<use href="#d1" x="740" y="205"/><use href="#d2" x="745" y="205"/>
<use href="#d1" x="764" y="205"/><use href="#d1" x="769" y="205"/>
<use href="#d1" x="789" y="205"/><use href="#d2" x="794" y="205"/>
<use href="#d1" x="814" y="205"/><use href="#d7" x="819" y="205"/>
<use href="#d1" x="838" y="205"/><use href="#d8" x="843" y="205"/>
<use href="#d1" x="863" y="205"/><use href="#d7" x="868" y="205"/>
<use href="#d1" x="888" y="205"/><use href="#d9" x="893" y="205"/>
<use href="#d7" x="49" y="219"/><use href="#d5" x="54" y="219"/>
<use href="#d4" x="148" y="219"/><use href="#d4" x="153" y="219"/>
<use href="#d2" x="172" y="219"/><use href="#d1" x="177" y="219"/>
<use href="#d1" x="197" y="219"/><use href="#d6" x="202" y="219"/>
<use href="#d2" x="222" y="219"/><use href="#d0" x="227" y="219"/>
<use href="#d2" x="246" y="219"/><use href="#d9" x="251" y="219"/>
<use href="#d3" x="271" y="219"/><use href="#d4" x="276" y="219"/>
<use href="#d4" x="296" y="219"/><use href="#d2" x="301" y="219"/>
<use href="#d4" x="320" y="219"/><use href="#d3" x="325" y="219"/>
<use href="#d4" x="345" y="219"/><use href="#d4" x="350" y="219"/>
<use href="#d3" x="444" y="219"/><use href="#d0" x="449" y="219"/>
<use href="#d5" x="468" y="219"/><use href="#d0" x="473" y="219"/>
<use href="#d4" x="493" y="219"/><use href="#d1" x="498" y="219"/>
<use href="#d2" x="518" y="219"/><use href="#d1" x="523" y="219"/>
<use href="#d1" x="542" y="219"/><use href="#d6" x="547" y="219"/>
<use href="#d1" x="567" y="219"/><use href="#d1" x="572" y="219"/>
<use href="#d1" x="592" y="219"/><use href="#d0" x="597" y="219"/>
<use href="#d9" x="618" y="219"/>
<use href="#d7" x="643" y="219"/>
<use href="#d9" x="668" y="219"/>
<use href="#d1" x="690" y="219"/><use href="#d1" x="695" y="219"/>
<use href="#d1" x="715" y="219"/><use href="#d2" x="720" y="219"/>
<use href="#d1" x="740" y="219"/><use href="#d3" x="745" y="219"/>
<use href="#d7" x="766" y="219"/>
<use href="#d1" x="789" y="219"/><use href="#d2" x="794" y="219"/>
<use href="#d1" x="814" y="219"/><use href="#d5" x="819" y="219"/>
<use href="#d1" x="838" y="219"/><use href="#d3" x="843" y="219"/>
<use href="#d2" x="863" y="219"/><use href="#d4" x="868" y="219"/>
<use href="#d3" x="178" y="234"/><use href="#d5" x="183" y="234"/>
<use href="#d1" x="191" y="234"/><use href="#d5" x="196" y="234"/>
<use href="#d2" x="203" y="234"/><use href="#d6" x="208" y="234"/>
<use href="#d1" x="215" y="234"/><use href="#d9" x="220" y="234"/>
<use href="#d2" x="228" y="234"/><use href="#d3" x="233" y="234"/>
<use href="#d2" x="240" y="234"/><use href="#d4" x="245" y="234"/>
<use href="#d2" x="252" y="234"/><use href="#d7" x="257" y="234"/>
<use href="#d2" x="265" y="234"/><use href="#d8" x="270" y="234"/>
<use href="#d3" x="277" y="234"/><use href="#d1" x="282" y="234"/>
<use href="#d3" x="289" y="234"/><use href="#d1" x="294" y="234"/>
<use href="#d3" x="302" y="234"/><use href="#d9" x="307" y="234"/>
<use href="#d3" x="314" y="234"/><use href="#d5" x="319" y="234"/>
<use href="#d3" x="326" y="234"/><use href="#d5" x="331" y="234"/>
<use href="#d3" x="339" y="234"/><use href="#d4" x="344" y="234"/>
<use href="#d3" x="351" y="234"/><use href="#d4" x="356" y="234"/>
<use href="#d2" x="462" y="234"/><use href="#d5" x="467" y="234"/>
<use href="#d3" x="474" y="234"/><use href="#d5" x="479" y="234"/>
<use href="#d4" x="487" y="234"/><use href="#d0" x="492" y="234"/>
<use href="#d3" x="499" y="234"/><use href="#d4" x="504" y="234"/>
<use href="#d2" x="511" y="234"/><use href="#d9" x="516" y="234"/>
<use href="#d2" x="524" y="234"/><use href="#d1" x="529" y="234"/>
<use href="#d1" x="536" y="234"/><use href="#d7" x="541" y="234"/>
<use href="#d1" x="548" y="234"/><use href="#d3" x="553" y="234"/>
<use href="#d9" x="563" y="234"/>
<use href="#d1" x="573" y="234"/><use href="#d1" x="578" y="234"/>
<use href="#d6" x="587" y="234"/>
<use href="#d6" x="600" y="234"/>
<use href="#d6" x="612" y="234"/>
<use href="#d7" x="624" y="234"/>
<use href="#d5" x="637" y="234"/>
<use href="#d7" x="649" y="234"/>
<use href="#d7" x="661" y="234"/>
<use href="#d9" x="674" y="234"/>
<use href="#d1" x="684" y="234"/><use href="#d1" x="689" y="234"/>
<use href="#d1" x="696" y="234"/><use href="#d4" x="701" y="234"/>
<use href="#d2" x="709" y="234"/><use href="#d1" x="714" y="234"/>
<use href="#d3" x="721" y="234"/><use href="#d1" x="726" y="234"/>
<use href="#d2" x="733" y="234"/><use href="#d3" x="738" y="234"/>
<use href="#d1" x="746" y="234"/><use href="#d2" x="751" y="234"/>
<use href="#d1" x="758" y="234"/><use href="#d5" x="763" y="234"/>
<use href="#d8" x="772" y="234"/>
<use href="#d1" x="783" y="234"/><use href="#d4" x="788" y="234"/>
<use href="#d1" x="795" y="234"/><use href="#d8" x="800" y="234"/>
<use href="#d1" x="807" y="234"/><use href="#d4" x="812" y="234"/>
<use href="#d1" x="820" y="234"/><use href="#d3" x="825" y="234"/>
<use href="#d1" x="832" y="234"/><use href="#d3" x="837" y="234"/>
<use href="#d9" x="846" y="234"/>
<use href="#d1" x="857" y="234"/><use href="#d1" x="862" y="234"/>
<use href="#d3" x="178" y="248"/><use href="#d9" x="183" y="248"/>
<use href="#d1" x="191" y="248"/><use href="#d2" x="196" y="248"/>
<use href="#d9" x="205" y="248"/>
<use href="#d1" x="215" y="248"/><use href="#d9" x="220" y="248"/>
<use href="#d2" x="228" y="248"/><use href="#d5" x="233" y="248"/>
<use href="#d2" x="240" y="248"/><use href="#d7" x="245" y="248"/>
<use href="#d2" x="252" y="248"/><use href="#d6" x="257" y="248"/>
<use href="#d2" x="265" y="248"/><use href="#d7" x="270" y="248"/>
<use href="#d2" x="277" y="248"/><use href="#d9" x="282" y="248"/>
<use href="#d3" x="289" y="248"/><use href="#d3" x="294" y="248"/>
<use href="#d2" x="302" y="248"/><use href="#d3" x="307" y="248"/>
<use href="#d1" x="314" y="248"/><use href="#d6" x="319" y="248"/>
<use href="#d3" x="326" y="248"/><use href="#d0" x="331" y="248"/>
<use href="#d3" x="462" y="248"/><use href="#d3" x="467" y="248"/>
<use href="#d3" x="474" y="248"/><use href="#d8" x="479" y="248"/>
<use href="#d3" x="487" y="248"/><use href="#d7" x="492" y="248"/>
<use href="#d2" x="499" y="248"/><use href="#d1" x="504" y="248"/>
<use href="#d1" x="511" y="248"/><use href="#d8" x="516" y="248"/>
<use href="#d3" x="524" y="248"/><use href="#d1" x="529" y="248"/>
<use href="#d2" x="536" y="248"/><use href="#d7" x="541" y="248"/>
<use href="#d1" x="548" y="248"/><use href="#d4" x="553" y="248"/>
<use href="#d1" x="561" y="248"/><use href="#d0" x="566" y="248"/>
<use href="#d1" x="573" y="248"/><use href="#d6" x="578" y="248"/>
<use href="#d2" x="585" y="248"/><use href="#d2" x="590" y="248"/>
<use href="#d2" x="598" y="248"/><use href="#d0" x="603" y="248"/>
<use href="#d6" x="612" y="248"/>
<use href="#d5" x="624" y="248"/>
<use href="#d5" x="637" y="248"/>
<use href="#d4" x="649" y="248"/>
<use href="#d8" x="661" y="248"/>
<use href="#d1" x="672" y="248"/><use href="#d0" x="677" y="248"/>
<use href="#d9" x="686" y="248"/>
<use href="#d9" x="698" y="248"/>
<use href="#d3" x="711" y="248"/>
<use href="#d5" x="723" y="248"/>
<use href="#d5" x="735" y="248"/>
<use href="#d7" x="748" y="248"/>
<use href="#d1" x="758" y="248"/><use href="#d0" x="763" y="248"/>
<use href="#d1" x="770" y="248"/><use href="#d4" x="775" y="248"/>
<use href="#d2" x="783" y="248"/><use href="#d0" x="788" y="248"/>
<use href="#d2" x="795" y="248"/><use href="#d7" x="800" y="248"/>
<use href="#d1" x="807" y="248"/><use href="#d1" x="812" y="248"/>
<use href="#d8" x="822" y="248"/>
<use href="#d7" x="834" y="248"/>
<use href="#d9" x="846" y="248"/>
<use href="#d3" x="178" y="262"/><use href="#d3" x="183" y="262"/>
<use href="#d9" x="193" y="262"/>
<use href="#d8" x="205" y="262"/>
<use href="#d1" x="215" y="262"/><use href="#d1" x="220" y="262"/>
<use href="#d1" x="228" y="262"/><use href="#d8" x="233" y="262"/>
<use href="#d2" x="240" y="262"/><use href="#d2" x="245" y="262"/>
<use href="#d2" x="252" y="262"/><use href="#d2" x="257" y="262"/>
<use href="#d2" x="265" y="262"/><use href="#d3" x="270" y="262"/>
<use href="#d2" x="277" y="262"/><use href="#d6" x="282" y="262"/>
<use href="#d2" x="289" y="262"/><use href="#d2" x="294" y="262"/>
<use href="#d8" x="400" y="262"/><use href="#d2" x="405" y="262"/>
<use href="#d8" x="413" y="262"/><use href="#d3" x="418" y="262"/>
<use href="#d2" x="462" y="262"/><use href="#d9" x="467" y="262"/>
<use href="#d3" x="474" y="262"/><use href="#d5" x="479" y="262"/>
<use href="#d3" x="487" y="262"/><use href="#d8" x="492" y="262"/>
<use href="#d1" x="499" y="262"/><use href="#d7" x="504" y="262"/>
<use href="#d2" x="511" y="262"/><use href="#d0" x="516" y="262"/>
<use href="#d1" x="524" y="262"/><use href="#d8" x="529" y="262"/>
<use href="#d9" x="538" y="262"/>
<use href="#d1" x="548" y="262"/><use href="#d1" x="553" y="262"/>
<use href="#d9" x="563" y="262"/>
<use href="#d1" x="573" y="262"/><use href="#d2" x="578" y="262"/>
<use href="#d1" x="585" y="262"/><use href="#d4" x="590" y="262"/>
<use href="#d1" x="598" y="262"/><use href="#d6" x="603" y="262"/>
<use href="#d2" x="610" y="262"/><use href="#d0" x="615" y="262"/>
<use href="#d1" x="622" y="262"/><use href="#d3" x="627" y="262"/>
<use href="#d3" x="637" y="262"/>
<use href="#d6" x="649" y="262"/>
<use href="#d1" x="659" y="262"/><use href="#d4" x="664" y="262"/>
<use href="#d4" x="674" y="262"/>
<use href="#d3" x="686" y="262"/>
<use href="#d2" x="698" y="262"/>
<use href="#d9" x="711" y="262"/>
<use href="#d8" x="723" y="262"/>
<use href="#d1" x="733" y="262"/><use href="#d0" x="738" y="262"/>
<use href="#d1" x="746" y="262"/><use href="#d0" x="751" y="262"/>
<use href="#d6" x="760" y="262"/>
<use href="#d1" x="770" y="262"/><use href="#d0" x="775" y="262"/>
<use href="#d1" x="783" y="262"/><use href="#d1" x="788" y="262"/>
<use href="#d2" x="795" y="262"/><use href="#d8" x="800" y="262"/>
<use href="#d1" x="807" y="262"/><use href="#d5" x="812" y="262"/>
<use href="#d8" x="822" y="262"/>
<use href="#d1" x="832" y="262"/><use href="#d0" x="837" y="262"/>
<use href="#d4" x="191" y="276"/><use href="#d7" x="196" y="276"/>
<use href="#d1" x="205" y="276"/>
<use href="#d7" x="217" y="276"/>
<use href="#d1" x="228" y="276"/><use href="#d5" x="233" y="276"/>
<use href="#d2" x="240" y="276"/><use href="#d2" x="245" y="276"/>
<use href="#d2" x="252" y="276"/><use href="#d3" x="257" y="276"/>
<use href="#d2" x="265" y="276"/><use href="#d1" x="270" y="276"/>
<use href="#d1" x="277" y="276"/><use href="#d7" x="282" y="276"/>
<use href="#d3" x="326" y="276"/><use href="#d4" x="331" y="276"/>
<use href="#d5" x="437" y="276"/><use href="#d7" x="442" y="276"/>
<use href="#d2" x="462" y="276"/><use href="#d5" x="467" y="276"/>
<use href="#d2" x="474" y="276"/><use href="#d0" x="479" y="276"/>
<use href="#d3" x="489" y="276"/>
<use href="#d7" x="501" y="276"/>
<use href="#d1" x="511" y="276"/><use href="#d6" x="516" y="276"/>
<use href="#d2" x="524" y="276"/><use href="#d2" x="529" y="276"/>
<use href="#d1" x="536" y="276"/><use href="#d8" x="541" y="276"/>
<use href="#d2" x="548" y="276"/><use href="#d8" x="553" y="276"/>
<use href="#d1" x="561" y="276"/><use href="#d4" x="566" y="276"/>
<use href="#d1" x="573" y="276"/><use href="#d3" x="578" y="276"/>
<use href="#d6" x="587" y="276"/>
<use href="#d1" x="598" y="276"/><use href="#d3" x="603" y="276"/>
<use href="#d1" x="610" y="276"/><use href="#d9" x="615" y="276"/>
<use href="#d1" x="622" y="276"/><use href="#d0" x="627" y="276"/>
<use href="#d1" x="635" y="276"/><use href="#d3" x="640" y="276"/>
<use href="#d2" x="647" y="276"/><use href="#d0" x="652" y="276"/>
<use href="#d2" x="659" y="276"/><use href="#d0" x="664" y="276"/>
<use href="#d1" x="672" y="276"/><use href="#d2" x="677" y="276"/>
<use href="#d2" x="684" y="276"/><use href="#d6" x="689" y="276"/>
<use href="#d2" x="696" y="276"/><use href="#d0" x="701" y="276"/>
<use href="#d1" x="709" y="276"/><use href="#d9" x="714" y="276"/>
<use href="#d1" x="721" y="276"/><use href="#d3" x="726" y="276"/>
<use href="#d3" x="733" y="276"/><use href="#d0" x="738" y="276"/>
<use href="#d2" x="746" y="276"/><use href="#d3" x="751" y="276"/>
<use href="#d1" x="758" y="276"/><use href="#d3" x="763" y="276"/>
<use href="#d1" x="770" y="276"/><use href="#d6" x="775" y="276"/>
<use href="#d2" x="783" y="276"/><use href="#d3" x="788" y="276"/>
<use href="#d1" x="795" y="276"/><use href="#d8" x="800" y="276"/>
<use href="#d7" x="809" y="276"/>
<use href="#d5" x="822" y="276"/>
<use href="#d4" x="43" y="291"/><use href="#d6" x="48" y="291"/>
<use href="#d5" x="191" y="291"/><use href="#d3" x="196" y="291"/>
<use href="#d3" x="205" y="291"/>
<use href="#d7" x="217" y="291"/>
<use href="#d1" x="228" y="291"/><use href="#d9" x="233" y="291"/>
<use href="#d2" x="240" y="291"/><use href="#d9" x="245" y="291"/>
<use href="#d2" x="252" y="291"/><use href="#d3" x="257" y="291"/>
<use href="#d1" x="277" y="291"/><use href="#d2" x="282" y="291"/>
<use href="#d1" x="289" y="291"/><use href="#d7" x="294" y="291"/>
<use href="#d7" x="437" y="291"/><use href="#d1" x="442" y="291"/>
<use href="#d6" x="450" y="291"/><use href="#d9" x="455" y="291"/>
<use href="#d1" x="464" y="291"/>
<use href="#d1" x="476" y="291"/>
<use href="#d2" x="489" y="291"/>
<use href="#d3" x="501" y="291"/>
<use href="#d1" x="513" y="291"/>
<use href="#d9" x="526" y="291"/>
<use href="#d3" x="538" y="291"/>
<use href="#d1" x="550" y="291"/>
<use href="#d2" x="563" y="291"/>
<use href="#d5" x="575" y="291"/>
<use href="#d1" x="585" y="291"/><use href="#d2" x="590" y="291"/>
<use href="#d1" x="598" y="291"/><use href="#d2" x="603" y="291"/>
<use href="#d9" x="612" y="291"/>
<use href="#d6" x="624" y="291"/>
<use href="#d6" x="637" y="291"/>
<use href="#d1" x="647" y="291"/><use href="#d2" x="652" y="291"/>
<use href="#d1" x="659" y="291"/><use href="#d5" x="664" y="291"/>
<use href="#d1" x="672" y="291"/><use href="#d3" x="677" y="291"/>
<use href="#d1" x="684" y="291"/><use href="#d2" x="689" y="291"/>
<use href="#d2" x="696" y="291"/><use href="#d2" x="701" y="291"/>
<use href="#d2" x="709" y="291"/><use href="#d9" x="714" y="291"/>
<use href="#d2" x="721" y="291"/><use href="#d5" x="726" y="291"/>
<use href="#d3" x="733" y="291"/><use href="#d2" x="738" y="291"/>
<use href="#d3" x="746" y="291"/><use href="#d9" x="751" y="291"/>
<use href="#d2" x="758" y="291"/><use href="#d4" x="763" y="291"/>
<use href="#d4" x="770" y="291"/><use href="#d1" x="775" y="291"/>
<use href="#d4" x="783" y="291"/><use href="#d5" x="788" y="291"/>
<use href="#d8" x="797" y="291"/>
<use href="#d7" x="809" y="291"/>
<use href="#d4" x="834" y="291"/>
<use href="#d6" x="92" y="305"/><use href="#d5" x="97" y="305"/>
<use href="#d3" x="205" y="305"/>
<use href="#d4" x="217" y="305"/>
<use href="#d8" x="230" y="305"/>
<use href="#d1" x="240" y="305"/><use href="#d9" x="245" y="305"/>
<use href="#d1" x="265" y="305"/><use href="#d3" x="270" y="305"/>
<use href="#d1" x="277" y="305"/><use href="#d2" x="282" y="305"/>
<use href="#d1" x="289" y="305"/><use href="#d4" x="294" y="305"/>
<use href="#d2" x="302" y="305"/><use href="#d1" x="307" y="305"/>
<use href="#d1" x="437" y="305"/><use href="#d0" x="442" y="305"/>
<use href="#d0" x="452" y="305"/>
<use href="#d3" x="489" y="305"/>
<use href="#d4" x="501" y="305"/>
<use href="#d3" x="538" y="305"/>
<use href="#d0" x="563" y="305"/>
<use href="#d6" x="575" y="305"/>
<use href="#d2" x="585" y="305"/><use href="#d0" x="590" y="305"/>
<use href="#d7" x="600" y="305"/>
<use href="#d0" x="612" y="305"/>
<use href="#d1" x="622" y="305"/><use href="#d3" x="627" y="305"/>
<use href="#d1" x="647" y="305"/><use href="#d2" x="652" y="305"/>
<use href="#d2" x="659" y="305"/><use href="#d4" x="664" y="305"/>
<use href="#d1" x="672" y="305"/><use href="#d5" x="677" y="305"/>
<use href="#d2" x="684" y="305"/><use href="#d3" x="689" y="305"/>
<use href="#d3" x="696" y="305"/><use href="#d5" x="701" y="305"/>
<use href="#d3" x="709" y="305"/><use href="#d9" x="714" y="305"/>
<use href="#d2" x="721" y="305"/><use href="#d5" x="726" y="305"/>
<use href="#d3" x="733" y="305"/><use href="#d1" x="738" y="305"/>
<use href="#d3" x="746" y="305"/><use href="#d2" x="751" y="305"/>
<use href="#d3" x="758" y="305"/><use href="#d5" x="763" y="305"/>
<use href="#d4" x="770" y="305"/><use href="#d5" x="775" y="305"/>
<use href="#d4" x="783" y="305"/><use href="#d5" x="788" y="305"/>
<use href="#d9" x="797" y="305"/>
<use href="#d6" x="859" y="305"/>
<use href="#d9" x="92" y="319"/><use href="#d0" x="97" y="319"/>
<use href="#d3" x="203" y="319"/><use href="#d1" x="208" y="319"/>
<use href="#d1" x="228" y="319"/><use href="#d3" x="233" y="319"/>
<use href="#d1" x="240" y="319"/><use href="#d3" x="245" y="319"/>
<use href="#d1" x="252" y="319"/><use href="#d4" x="257" y="319"/>
<use href="#d1" x="265" y="319"/><use href="#d1" x="270" y="319"/>
<use href="#d8" x="279" y="319"/>
<use href="#d4" x="289" y="319"/><use href="#d2" x="294" y="319"/>
<use href="#d1" x="302" y="319"/><use href="#d8" x="307" y="319"/>
<use href="#d2" x="314" y="319"/><use href="#d2" x="319" y="319"/>
<use href="#d5" x="326" y="319"/><use href="#d3" x="331" y="319"/>
<use href="#d5" x="425" y="319"/><use href="#d4" x="430" y="319"/>
<use href="#d2" x="439" y="319"/>
<use href="#d1" x="452" y="319"/>
<use href="#d3" x="464" y="319"/>
<use href="#d2" x="476" y="319"/>
<use href="#d5" x="489" y="319"/>
<use href="#d1" x="501" y="319"/>
<use href="#d0" x="513" y="319"/>
<use href="#d0" x="526" y="319"/>
<use href="#d1" x="563" y="319"/>
<use href="#d1" x="573" y="319"/><use href="#d2" x="578" y="319"/>
<use href="#d9" x="587" y="319"/>
<use href="#d3" x="600" y="319"/>
<use href="#d6" x="610" y="319"/><use href="#d0" x="615" y="319"/>
<use href="#d5" x="659" y="319"/><use href="#d4" x="664" y="319"/>
<use href="#d2" x="672" y="319"/><use href="#d9" x="677" y="319"/>
<use href="#d3" x="684" y="319"/><use href="#d9" x="689" y="319"/>
<use href="#d3" x="709" y="319"/><use href="#d7" x="714" y="319"/>
<use href="#d3" x="721" y="319"/><use href="#d6" x="726" y="319"/>
<use href="#d3" x="733" y="319"/><use href="#d4" x="738" y="319"/>
<use href="#d2" x="746" y="319"/><use href="#d0" x="751" y="319"/>
<use href="#d3" x="760" y="319"/>
<use href="#d1" x="770" y="319"/><use href="#d6" x="775" y="319"/>
<use href="#d1" x="783" y="319"/><use href="#d0" x="788" y="319"/>
<use href="#d3" x="894" y="319"/><use href="#d7" x="899" y="319"/>
<use href="#d1" x="252" y="333"/><use href="#d9" x="257" y="333"/>
<use href="#d1" x="265" y="333"/><use href="#d0" x="270" y="333"/>
<use href="#d1" x="277" y="333"/><use href="#d2" x="282" y="333"/>
<use href="#d3" x="289" y="333"/><use href="#d4" x="294" y="333"/>
<use href="#d2" x="302" y="333"/><use href="#d5" x="307" y="333"/>
<use href="#d4" x="314" y="333"/><use href="#d4" x="319" y="333"/>
<use href="#d4" x="326" y="333"/><use href="#d1" x="331" y="333"/>
<use href="#d5" x="339" y="333"/><use href="#d2" x="344" y="333"/>
<use href="#d8" x="439" y="333"/>
<use href="#d3" x="452" y="333"/>
<use href="#d1" x="462" y="333"/><use href="#d0" x="467" y="333"/>
<use href="#d1" x="474" y="333"/><use href="#d7" x="479" y="333"/>
<use href="#d1" x="487" y="333"/><use href="#d3" x="492" y="333"/>
<use href="#d1" x="501" y="333"/>
<use href="#d2" x="513" y="333"/>
<use href="#d1" x="526" y="333"/>
<use href="#d2" x="538" y="333"/>
<use href="#d5" x="550" y="333"/>
<use href="#d4" x="563" y="333"/>
<use href="#d1" x="573" y="333"/><use href="#d8" x="578" y="333"/>
<use href="#d6" x="587" y="333"/>
<use href="#d3" x="598" y="333"/><use href="#d2" x="603" y="333"/>
<use href="#d6" x="659" y="333"/><use href="#d5" x="664" y="333"/>
<use href="#d3" x="672" y="333"/><use href="#d4" x="677" y="333"/>
<use href="#d1" x="684" y="333"/><use href="#d8" x="689" y="333"/>
<use href="#d4" x="709" y="333"/><use href="#d2" x="714" y="333"/>
<use href="#d2" x="721" y="333"/><use href="#d0" x="726" y="333"/>
<use href="#d2" x="733" y="333"/><use href="#d9" x="738" y="333"/>
<use href="#d2" x="746" y="333"/><use href="#d6" x="751" y="333"/>
<use href="#d5" x="785" y="333"/>
<use href="#d2" x="797" y="333"/>
<use href="#d1" x="832" y="333"/><use href="#d9" x="837" y="333"/>
<use href="#d4" x="277" y="347"/><use href="#d3" x="282" y="347"/>
<use href="#d3" x="289" y="347"/><use href="#d0" x="294" y="347"/>
<use href="#d4" x="302" y="347"/><use href="#d3" x="307" y="347"/>
<use href="#d5" x="314" y="347"/><use href="#d5" x="319" y="347"/>
<use href="#d4" x="326" y="347"/><use href="#d3" x="331" y="347"/>
<use href="#d3" x="339" y="347"/><use href="#d7" x="344" y="347"/>
<use href="#d9" x="353" y="347"/>
<use href="#d1" x="450" y="347"/><use href="#d4" x="455" y="347"/>
<use href="#d1" x="462" y="347"/><use href="#d4" x="467" y="347"/>
<use href="#d2" x="474" y="347"/><use href="#d5" x="479" y="347"/>
<use href="#d2" x="487" y="347"/><use href="#d3" x="492" y="347"/>
<use href="#d2" x="499" y="347"/><use href="#d0" x="504" y="347"/>
<use href="#d1" x="511" y="347"/><use href="#d1" x="516" y="347"/>
<use href="#d1" x="524" y="347"/><use href="#d3" x="529" y="347"/>
<use href="#d1" x="536" y="347"/><use href="#d1" x="541" y="347"/>
<use href="#d1" x="548" y="347"/><use href="#d0" x="553" y="347"/>
<use href="#d1" x="561" y="347"/><use href="#d7" x="566" y="347"/>
<use href="#d2" x="573" y="347"/><use href="#d5" x="578" y="347"/>
<use href="#d1" x="585" y="347"/><use href="#d2" x="590" y="347"/>
<use href="#d1" x="598" y="347"/><use href="#d2" x="603" y="347"/>
<use href="#d6" x="659" y="347"/><use href="#d8" x="664" y="347"/>
<use href="#d2" x="672" y="347"/><use href="#d4" x="677" y="347"/>
<use href="#d4" x="686" y="347"/>
<use href="#d5" x="709" y="347"/><use href="#d4" x="714" y="347"/>
<use href="#d2" x="721" y="347"/><use href="#d4" x="726" y="347"/>
<use href="#d2" x="733" y="347"/><use href="#d1" x="738" y="347"/>
<use href="#d1" x="746" y="347"/><use href="#d0" x="751" y="347"/>
<use href="#d2" x="770" y="347"/><use href="#d8" x="775" y="347"/>
<use href="#d3" x="785" y="347"/>
<use href="#d4" x="797" y="347"/>
<use href="#d3" x="809" y="347"/>
<use href="#d2" x="822" y="347"/>
<use href="#d1" x="859" y="347"/>
<use href="#d2" x="871" y="347"/>
<use href="#d2" x="894" y="347"/><use href="#d4" x="899" y="347"/>
<use href="#d3" x="906" y="347"/><use href="#d9" x="911" y="347"/>
<use href="#d2" x="94" y="362"/>
<use href="#d5" x="289" y="362"/><use href="#d3" x="294" y="362"/>
<use href="#d6" x="302" y="362"/><use href="#d1" x="307" y="362"/>
<use href="#d2" x="326" y="362"/><use href="#d8" x="331" y="362"/>
<use href="#d4" x="339" y="362"/><use href="#d0" x="344" y="362"/>
<use href="#d1" x="351" y="362"/><use href="#d9" x="356" y="362"/>
<use href="#d9" x="464" y="362"/>
<use href="#d2" x="474" y="362"/><use href="#d9" x="479" y="362"/>
<use href="#d2" x="499" y="362"/><use href="#d4" x="504" y="362"/>
<use href="#d3" x="511" y="362"/><use href="#d6" x="516" y="362"/>
<use href="#d1" x="524" y="362"/><use href="#d5" x="529" y="362"/>
<use href="#d1" x="536" y="362"/><use href="#d5" x="541" y="362"/>
<use href="#d1" x="548" y="362"/><use href="#d9" x="553" y="362"/>
<use href="#d8" x="563" y="362"/>
<use href="#d1" x="573" y="362"/><use href="#d5" x="578" y="362"/>
<use href="#d2" x="585" y="362"/><use href="#d0" x="590" y="362"/>
<use href="#d3" x="598" y="362"/><use href="#d2" x="603" y="362"/>
<use href="#d6" x="661" y="362"/>
<use href="#d2" x="721" y="362"/><use href="#d7" x="726" y="362"/>
<use href="#d1" x="733" y="362"/><use href="#d2" x="738" y="362"/>
<use href="#d2" x="746" y="362"/><use href="#d2" x="751" y="362"/>
<use href="#d1" x="758" y="362"/><use href="#d0" x="763" y="362"/>
<use href="#d7" x="772" y="362"/>
<use href="#d4" x="783" y="362"/><use href="#d4" x="788" y="362"/>
<use href="#d1" x="795" y="362"/><use href="#d5" x="800" y="362"/>
<use href="#d1" x="908" y="362"/>
<use href="#d3" x="277" y="376"/><use href="#d6" x="282" y="376"/>
<use href="#d4" x="289" y="376"/><use href="#d5" x="294" y="376"/>
<use href="#d3" x="302" y="376"/><use href="#d2" x="307" y="376"/>
<use href="#d3" x="314" y="376"/><use href="#d8" x="319" y="376"/>
<use href="#d2" x="326" y="376"/><use href="#d0" x="331" y="376"/>
<use href="#d3" x="339" y="376"/><use href="#d2" x="344" y="376"/>
<use href="#d2" x="351" y="376"/><use href="#d5" x="356" y="376"/>
<use href="#d2" x="363" y="376"/><use href="#d1" x="368" y="376"/>
<use href="#d2" x="376" y="376"/><use href="#d0" x="381" y="376"/>
<use href="#d1" x="388" y="376"/><use href="#d7" x="393" y="376"/>
<use href="#d4" x="402" y="376"/>
<use href="#d5" x="499" y="376"/><use href="#d7" x="504" y="376"/>
<use href="#d5" x="511" y="376"/><use href="#d3" x="516" y="376"/>
<use href="#d3" x="524" y="376"/><use href="#d9" x="529" y="376"/>
<use href="#d1" x="536" y="376"/><use href="#d1" x="541" y="376"/>
<use href="#d1" x="548" y="376"/><use href="#d8" x="553" y="376"/>
<use href="#d6" x="563" y="376"/>
<use href="#d1" x="573" y="376"/><use href="#d9" x="578" y="376"/>
<use href="#d1" x="585" y="376"/><use href="#d0" x="590" y="376"/>
<use href="#d2" x="622" y="376"/><use href="#d4" x="627" y="376"/>
<use href="#d2" x="733" y="376"/><use href="#d4" x="738" y="376"/>
<use href="#d9" x="748" y="376"/>
<use href="#d3" x="758" y="376"/><use href="#d1" x="763" y="376"/>
<use href="#d2" x="770" y="376"/><use href="#d9" x="775" y="376"/>
<use href="#d2" x="783" y="376"/><use href="#d1" x="788" y="376"/>
<use href="#d5" x="795" y="376"/><use href="#d7" x="800" y="376"/>
<use href="#d2" x="807" y="376"/><use href="#d3" x="812" y="376"/>
<use href="#d2" x="820" y="376"/><use href="#d7" x="825" y="376"/>
<use href="#d3" x="832" y="376"/><use href="#d4" x="837" y="376"/>
<use href="#d2" x="844" y="376"/><use href="#d2" x="849" y="376"/>
<use href="#d3" x="857" y="376"/><use href="#d5" x="862" y="376"/>
<use href="#d1" x="920" y="376"/>
<use href="#d1" x="55" y="391"/><use href="#d1" x="60" y="391"/>
<use href="#d1" x="94" y="391"/>
<use href="#d3" x="141" y="391"/><use href="#d3" x="146" y="391"/>
<use href="#d2" x="277" y="391"/><use href="#d3" x="282" y="391"/>
<use href="#d2" x="289" y="391"/><use href="#d7" x="294" y="391"/>
<use href="#d2" x="302" y="391"/><use href="#d2" x="307" y="391"/>
<use href="#d3" x="314" y="391"/><use href="#d1" x="319" y="391"/>
<use href="#d2" x="326" y="391"/><use href="#d7" x="331" y="391"/>
<use href="#d2" x="339" y="391"/><use href="#d8" x="344" y="391"/>
<use href="#d1" x="351" y="391"/><use href="#d2" x="356" y="391"/>
<use href="#d1" x="363" y="391"/><use href="#d5" x="368" y="391"/>
<use href="#d2" x="376" y="391"/><use href="#d0" x="381" y="391"/>
<use href="#d1" x="388" y="391"/><use href="#d2" x="393" y="391"/>
<use href="#d1" x="400" y="391"/><use href="#d7" x="405" y="391"/>
<use href="#d4" x="450" y="391"/><use href="#d7" x="455" y="391"/>
<use href="#d4" x="511" y="391"/><use href="#d8" x="516" y="391"/>
<use href="#d1" x="524" y="391"/><use href="#d2" x="529" y="391"/>
<use href="#d9" x="538" y="391"/>
<use href="#d5" x="550" y="391"/>
<use href="#d2" x="561" y="391"/><use href="#d4" x="566" y="391"/>
<use href="#d1" x="573" y="391"/><use href="#d7" x="578" y="391"/>
<use href="#d2" x="659" y="391"/><use href="#d1" x="664" y="391"/>
<use href="#d1" x="746" y="391"/><use href="#d9" x="751" y="391"/>
<use href="#d2" x="758" y="391"/><use href="#d4" x="763" y="391"/>
<use href="#d2" x="770" y="391"/><use href="#d1" x="775" y="391"/>
<use href="#d1" x="783" y="391"/><use href="#d3" x="788" y="391"/>
<use href="#d3" x="795" y="391"/><use href="#d0" x="800" y="391"/>
<use href="#d3" x="807" y="391"/><use href="#d0" x="812" y="391"/>
<use href="#d5" x="832" y="391"/><use href="#d3" x="837" y="391"/>
<use href="#d3" x="844" y="391"/><use href="#d4" x="849" y="391"/>
<use href="#d1" x="869" y="391"/><use href="#d5" x="874" y="391"/>
<use href="#d2" x="881" y="391"/><use href="#d2" x="886" y="391"/>
<use href="#d1" x="920" y="391"/>
<use href="#d3" x="43" y="405"/><use href="#d6" x="48" y="405"/>
<use href="#d4" x="55" y="405"/><use href="#d5" x="60" y="405"/>
<use href="#d8" x="69" y="405"/>
<use href="#d2" x="82" y="405"/>
<use href="#d3" x="117" y="405"/><use href="#d2" x="122" y="405"/>
<use href="#d1" x="289" y="405"/><use href="#d2" x="294" y="405"/>
<use href="#d2" x="302" y="405"/><use href="#d4" x="307" y="405"/>
<use href="#d2" x="314" y="405"/><use href="#d7" x="319" y="405"/>
<use href="#d2" x="326" y="405"/><use href="#d1" x="331" y="405"/>
<use href="#d1" x="339" y="405"/><use href="#d0" x="344" y="405"/>
<use href="#d7" x="353" y="405"/>
<use href="#d6" x="365" y="405"/>
<use href="#d4" x="378" y="405"/>
<use href="#d3" x="388" y="405"/><use href="#d3" x="393" y="405"/>
<use href="#d3" x="511" y="405"/><use href="#d7" x="516" y="405"/>
<use href="#d1" x="524" y="405"/><use href="#d2" x="529" y="405"/>
<use href="#d9" x="538" y="405"/>
<use href="#d1" x="548" y="405"/><use href="#d3" x="553" y="405"/>
<use href="#d2" x="561" y="405"/><use href="#d6" x="566" y="405"/>
<use href="#d1" x="573" y="405"/><use href="#d3" x="578" y="405"/>
<use href="#d1" x="585" y="405"/><use href="#d0" x="590" y="405"/>
<use href="#d4" x="598" y="405"/><use href="#d6" x="603" y="405"/>
<use href="#d6" x="610" y="405"/><use href="#d8" x="615" y="405"/>
<use href="#d5" x="622" y="405"/><use href="#d5" x="627" y="405"/>
<use href="#d3" x="721" y="405"/><use href="#d6" x="726" y="405"/>
<use href="#d1" x="783" y="405"/><use href="#d3" x="788" y="405"/>
<use href="#d1" x="807" y="405"/><use href="#d0" x="812" y="405"/>
<use href="#d2" x="820" y="405"/><use href="#d6" x="825" y="405"/>
<use href="#d1" x="832" y="405"/><use href="#d9" x="837" y="405"/>
<use href="#d2" x="857" y="405"/><use href="#d0" x="862" y="405"/>
<use href="#d1" x="881" y="405"/><use href="#d7" x="886" y="405"/>
<use href="#d5" x="894" y="405"/><use href="#d9" x="899" y="405"/>
<use href="#d4" x="918" y="405"/><use href="#d5" x="923" y="405"/>
<use href="#d5" x="43" y="419"/><use href="#d9" x="48" y="419"/>
<use href="#d3" x="55" y="419"/><use href="#d3" x="60" y="419"/>
<use href="#d3" x="67" y="419"/><use href="#d4" x="72" y="419"/>
<use href="#d1" x="82" y="419"/>
<use href="#d2" x="92" y="419"/><use href="#d4" x="97" y="419"/>
<use href="#d2" x="104" y="419"/><use href="#d8" x="109" y="419"/>
<use href="#d6" x="117" y="419"/><use href="#d9" x="122" y="419"/>
<use href="#d3" x="129" y="419"/><use href="#d8" x="134" y="419"/>
<use href="#d1" x="289" y="419"/><use href="#d5" x="294" y="419"/>
<use href="#d2" x="302" y="419"/><use href="#d6" x="307" y="419"/>
<use href="#d1" x="314" y="419"/><use href="#d2" x="319" y="419"/>
<use href="#d3" x="326" y="419"/><use href="#d7" x="331" y="419"/>
<use href="#d1" x="339" y="419"/><use href="#d6" x="344" y="419"/>
<use href="#d1" x="351" y="419"/><use href="#d3" x="356" y="419"/>
<use href="#d1" x="363" y="419"/><use href="#d1" x="368" y="419"/>
<use href="#d3" x="376" y="419"/><use href="#d2" x="381" y="419"/>
<use href="#d1" x="388" y="419"/><use href="#d0" x="393" y="419"/>
<use href="#d7" x="462" y="419"/><use href="#d8" x="467" y="419"/>
<use href="#d6" x="513" y="419"/>
<use href="#d6" x="526" y="419"/>
<use href="#d5" x="538" y="419"/>
<use href="#d2" x="548" y="419"/><use href="#d6" x="553" y="419"/>
<use href="#d3" x="561" y="419"/><use href="#d0" x="566" y="419"/>
<use href="#d1" x="573" y="419"/><use href="#d8" x="578" y="419"/>
<use href="#d2" x="585" y="419"/><use href="#d4" x="590" y="419"/>
<use href="#d4" x="598" y="419"/><use href="#d8" x="603" y="419"/>
<use href="#d4" x="610" y="419"/><use href="#d7" x="615" y="419"/>
<use href="#d6" x="622" y="419"/><use href="#d2" x="627" y="419"/>
<use href="#d6" x="635" y="419"/><use href="#d6" x="640" y="419"/>
<use href="#d1" x="783" y="419"/><use href="#d0" x="788" y="419"/>
<use href="#d4" x="797" y="419"/>
<use href="#d5" x="809" y="419"/>
<use href="#d7" x="822" y="419"/>
<use href="#d8" x="834" y="419"/>
<use href="#d2" x="844" y="419"/><use href="#d6" x="849" y="419"/>
<use href="#d4" x="894" y="419"/><use href="#d7" x="899" y="419"/>
<use href="#d6" x="918" y="419"/><use href="#d7" x="923" y="419"/>
<use href="#d6" x="43" y="433"/><use href="#d4" x="48" y="433"/>
<use href="#d1" x="92" y="433"/><use href="#d2" x="97" y="433"/>
<use href="#d5" x="117" y="433"/><use href="#d0" x="122" y="433"/>
<use href="#d4" x="141" y="433"/><use href="#d7" x="146" y="433"/>
<use href="#d4" x="154" y="433"/><use href="#d6" x="159" y="433"/>
<use href="#d6" x="302" y="433"/><use href="#d2" x="307" y="433"/>
<use href="#d4" x="314" y="433"/><use href="#d5" x="319" y="433"/>
<use href="#d2" x="326" y="433"/><use href="#d6" x="331" y="433"/>
<use href="#d4" x="339" y="433"/><use href="#d8" x="344" y="433"/>
<use href="#d2" x="351" y="433"/><use href="#d4" x="356" y="433"/>
<use href="#d2" x="363" y="433"/><use href="#d9" x="368" y="433"/>
<use href="#d2" x="376" y="433"/><use href="#d9" x="381" y="433"/>
<use href="#d1" x="413" y="433"/><use href="#d1" x="418" y="433"/>
<use href="#d7" x="513" y="433"/>
<use href="#d7" x="526" y="433"/>
<use href="#d5" x="538" y="433"/>
<use href="#d2" x="548" y="433"/><use href="#d2" x="553" y="433"/>
<use href="#d2" x="561" y="433"/><use href="#d5" x="566" y="433"/>
<use href="#d2" x="573" y="433"/><use href="#d0" x="578" y="433"/>
<use href="#d3" x="585" y="433"/><use href="#d0" x="590" y="433"/>
<use href="#d4" x="598" y="433"/><use href="#d9" x="603" y="433"/>
<use href="#d7" x="622" y="433"/><use href="#d3" x="627" y="433"/>
<use href="#d2" x="758" y="433"/><use href="#d1" x="763" y="433"/>
<use href="#d1" x="770" y="433"/><use href="#d1" x="775" y="433"/>
<use href="#d1" x="807" y="433"/><use href="#d3" x="812" y="433"/>
<use href="#d8" x="822" y="433"/>
<use href="#d1" x="832" y="433"/><use href="#d4" x="837" y="433"/>
<use href="#d2" x="844" y="433"/><use href="#d6" x="849" y="433"/>
<use href="#d2" x="857" y="433"/><use href="#d7" x="862" y="433"/>
<use href="#d7" x="881" y="433"/><use href="#d3" x="886" y="433"/>
<use href="#d6" x="894" y="433"/><use href="#d8" x="899" y="433"/>
<use href="#d4" x="43" y="447"/><use href="#d3" x="48" y="447"/>
<use href="#d6" x="129" y="447"/><use href="#d3" x="134" y="447"/>
<use href="#d2" x="215" y="447"/><use href="#d4" x="220" y="447"/>
<use href="#d3" x="302" y="447"/><use href="#d2" x="307" y="447"/>
<use href="#d3" x="314" y="447"/><use href="#d3" x="319" y="447"/>
<use href="#d3" x="326" y="447"/><use href="#d0" x="331" y="447"/>
<use href="#d2" x="339" y="447"/><use href="#d3" x="344" y="447"/>
<use href="#d2" x="351" y="447"/><use href="#d8" x="356" y="447"/>
<use href="#d4" x="363" y="447"/><use href="#d1" x="368" y="447"/>
<use href="#d1" x="524" y="447"/><use href="#d0" x="529" y="447"/>
<use href="#d8" x="538" y="447"/>
<use href="#d1" x="548" y="447"/><use href="#d2" x="553" y="447"/>
<use href="#d2" x="561" y="447"/><use href="#d3" x="566" y="447"/>
<use href="#d6" x="598" y="447"/><use href="#d2" x="603" y="447"/>
<use href="#d2" x="758" y="447"/><use href="#d5" x="763" y="447"/>
<use href="#d1" x="770" y="447"/><use href="#d3" x="775" y="447"/>
<use href="#d9" x="785" y="447"/>
<use href="#d1" x="795" y="447"/><use href="#d2" x="800" y="447"/>
<use href="#d9" x="809" y="447"/>
<use href="#d1" x="820" y="447"/><use href="#d0" x="825" y="447"/>
<use href="#d1" x="832" y="447"/><use href="#d0" x="837" y="447"/>
<use href="#d1" x="844" y="447"/><use href="#d2" x="849" y="447"/>
<use href="#d4" x="857" y="447"/><use href="#d6" x="862" y="447"/>
<use href="#d4" x="894" y="447"/><use href="#d4" x="899" y="447"/>
<use href="#d5" x="289" y="462"/><use href="#d6" x="294" y="462"/>
<use href="#d1" x="302" y="462"/><use href="#d8" x="307" y="462"/>
<use href="#d3" x="314" y="462"/><use href="#d2" x="319" y="462"/>
<use href="#d2" x="326" y="462"/><use href="#d2" x="331" y="462"/>
<use href="#d2" x="339" y="462"/><use href="#d1" x="344" y="462"/>
<use href="#d2" x="351" y="462"/><use href="#d6" x="356" y="462"/>
<use href="#d3" x="524" y="462"/><use href="#d1" x="529" y="462"/>
<use href="#d2" x="536" y="462"/><use href="#d8" x="541" y="462"/>
<use href="#d2" x="548" y="462"/><use href="#d4" x="553" y="462"/>
<use href="#d2" x="561" y="462"/><use href="#d3" x="566" y="462"/>
<use href="#d4" x="770" y="462"/><use href="#d6" x="775" y="462"/>
<use href="#d4" x="783" y="462"/><use href="#d3" x="788" y="462"/>
<use href="#d3" x="795" y="462"/><use href="#d1" x="800" y="462"/>
<use href="#d2" x="807" y="462"/><use href="#d8" x="812" y="462"/>
<use href="#d2" x="820" y="462"/><use href="#d8" x="825" y="462"/>
<use href="#d2" x="832" y="462"/><use href="#d4" x="837" y="462"/>
<use href="#d2" x="844" y="462"/><use href="#d0" x="849" y="462"/>
<use href="#d4" x="857" y="462"/><use href="#d2" x="862" y="462"/>
<use href="#d1" x="906" y="462"/><use href="#d8" x="911" y="462"/>
<use href="#d3" x="302" y="476"/><use href="#d1" x="307" y="476"/>
<use href="#d2" x="314" y="476"/><use href="#d7" x="319" y="476"/>
<use href="#d1" x="326" y="476"/><use href="#d5" x="331" y="476"/>
<use href="#d2" x="339" y="476"/><use href="#d2" x="344" y="476"/>
<use href="#d6" x="672" y="476"/><use href="#d4" x="677" y="476"/>
<use href="#d4" x="820" y="476"/><use href="#d0" x="825" y="476"/>
<use href="#d4" x="832" y="476"/><use href="#d9" x="837" y="476"/>
<use href="#d4" x="844" y="476"/><use href="#d7" x="849" y="476"/>
<use href="#d2" x="857" y="476"/><use href="#d2" x="862" y="476"/>
<use href="#d6" x="906" y="476"/><use href="#d0" x="911" y="476"/>
<use href="#d4" x="918" y="476"/><use href="#d3" x="923" y="476"/>
<use href="#d4" x="43" y="490"/><use href="#d9" x="48" y="490"/>
<use href="#d5" x="302" y="490"/><use href="#d0" x="307" y="490"/>
<use href="#d3" x="314" y="490"/><use href="#d1" x="319" y="490"/>
<use href="#d2" x="326" y="490"/><use href="#d1" x="331" y="490"/>
<use href="#d6" x="462" y="490"/><use href="#d2" x="467" y="490"/>
<use href="#d5" x="844" y="490"/><use href="#d0" x="849" y="490"/>
<use href="#d3" x="894" y="490"/><use href="#d8" x="899" y="490"/>
<use href="#d4" x="906" y="490"/><use href="#d8" x="911" y="490"/>
<use href="#d7" x="918" y="490"/><use href="#d1" x="923" y="490"/>
<use href="#d3" x="302" y="504"/><use href="#d6" x="307" y="504"/>
<use href="#d1" x="314" y="504"/><use href="#d9" x="319" y="504"/>
<use href="#d5" x="573" y="504"/><use href="#d2" x="578" y="504"/>
<use href="#d4" x="610" y="504"/><use href="#d3" x="615" y="504"/>
<use href="#d5" x="659" y="504"/><use href="#d9" x="664" y="504"/>
<use href="#d5" x="894" y="504"/><use href="#d8" x="899" y="504"/>
<use href="#d4" x="906" y="504"/><use href="#d9" x="911" y="504"/>
<use href="#d4" x="296" y="519"/><use href="#d5" x="301" y="519"/>
<use href="#d2" x="320" y="519"/><use href="#d5" x="325" y="519"/>
<use href="#d6" x="345" y="519"/><use href="#d6" x="350" y="519"/>
<use href="#d4" x="863" y="519"/><use href="#d7" x="868" y="519"/>
<use href="#d3" x="888" y="519"/><use href="#d4" x="893" y="519"/>
<use href="#d3" x="320" y="547"/><use href="#d4" x="325" y="547"/>
<use href="#d2" x="345" y="547"/><use href="#d3" x="350" y="547"/>
<use href="#d2" x="370" y="547"/><use href="#d8" x="375" y="547"/>
<use href="#d2" x="320" y="561"/><use href="#d5" x="325" y="561"/>
<use href="#d2" x="567" y="561"/><use href="#d4" x="572" y="561"/>
<use href="#d2" x="592" y="561"/><use href="#d6" x="597" y="561"/>
<use href="#d2" x="641" y="561"/><use href="#d4" x="646" y="561"/>
<use href="#d5" x="666" y="561"/><use href="#d5" x="671" y="561"/>
<use href="#d1" x="715" y="561"/><use href="#d5" x="720" y="561"/>
<use href="#d6" x="764" y="561"/><use href="#d1" x="769" y="561"/>
<use href="#d4" x="838" y="561"/><use href="#d5" x="843" y="561"/>
<use href="#d2" x="863" y="561"/><use href="#d4" x="868" y="561"/>
<use href="#d3" x="160" y="575"/><use href="#d1" x="165" y="575"/>
<use href="#d3" x="456" y="575"/><use href="#d2" x="461" y="575"/>
<use href="#d9" x="507" y="575"/>
<use href="#d1" x="557" y="575"/>
<use href="#d1" x="606" y="575"/>
<use href="#d3" x="407" y="590"/><use href="#d2" x="412" y="590"/>
<use href="#d0" x="754" y="590"/>
<use href="#d3" x="900" y="590"/><use href="#d0" x="905" y="590"/>
<use href="#d3" x="970" y="134"/><use href="#d9" x="975" y="134"/>
<use href="#d4" x="970" y="148"/><use href="#d7" x="975" y="148"/>
<use href="#d3" x="970" y="163"/><use href="#d3" x="975" y="163"/>
<use href="#d2" x="970" y="177"/><use href="#d6" x="975" y="177"/>
<use href="#d2" x="970" y="191"/><use href="#d6" x="975" y="191"/>
<use href="#d2" x="970" y="205"/><use href="#d2" x="975" y="205"/>
<use href="#d2" x="970" y="219"/><use href="#d0" x="975" y="219"/>
<use href="#d1" x="970" y="234"/><use href="#d9" x="975" y="234"/>
<use href="#d1" x="970" y="248"/><use href="#d7" x="975" y="248"/>
<use href="#d1" x="970" y="262"/><use href="#d4" x="975" y="262"/>
<use href="#d1" x="970" y="276"/><use href="#d7" x="975" y="276"/>
<use href="#d1" x="970" y="291"/><use href="#d5" x="975" y="291"/>
<use href="#d1" x="970" y="305"/><use href="#d3" x="975" y="305"/>
<use href="#d1" x="970" y="319"/><use href="#d4" x="975" y="319"/>
<use href="#d1" x="970" y="333"/><use href="#d3" x="975" y="333"/>
<use href="#d2" x="970" y="347"/><use href="#d2" x="975" y="347"/>
<use href="#d2" x="970" y="362"/><use href="#d6" x="975" y="362"/>
<use href="#d2" x="970" y="376"/><use href="#d7" x="975" y="376"/>
<use href="#d2" x="970" y="391"/><use href="#d2" x="975" y="391"/>
<use href="#d1" x="970" y="405"/><use href="#d6" x="975" y="405"/>
<use href="#d1" x="970" y="419"/><use href="#d8" x="975" y="419"/>
<use href="#d2" x="970" y="433"/><use href="#d2" x="975" y="433"/>
<use href="#d1" x="970" y="447"/><use href="#d8" x="975" y="447"/>
<use href="#d2" x="970" y="462"/><use href="#d9" x="975" y="462"/>
<use href="#d3" x="970" y="476"/><use href="#d3" x="975" y="476"/>
<use href="#d4" x="970" y="490"/><use href="#d2" x="975" y="490"/>
<use href="#d3" x="970" y="504"/><use href="#d4" x="975" y="504"/>
<use href="#d4" x="970" y="519"/><use href="#d0" x="975" y="519"/>
<use href="#d2" x="970" y="547"/><use href="#d7" x="975" y="547"/>
<use href="#d3" x="970" y="561"/><use href="#d4" x="975" y="561"/>
<use href="#d5" x="972" y="575"/>
<use href="#d4" x="972" y="590"/>
</g>
<g class="lat">
<text x="28.3" y="119.9">90 ° N</text>
<text x="28.3" y="204.9">60 ° N</text>
<text x="28.3" y="289.9">30 ° N</text>
<text x="28.3" y="375.9">0 °</text>
<text x="28.3" y="460.9">30 ° S</text>
<text x="28.3" y="545.9">60 ° S</text>
<text x="28.3" y="631.9">90 ° S</text>
</g>
<g class="lon">
<text x="45.7" y="653">180 ° W</text>
<text x="118.9" y="653">150 ° W</text>
<text x="192.2" y="653">120 ° W</text>
<text x="265.4" y="653">90 ° W</text>
<text x="338.6" y="653">60 ° W</text>
<text x="411.9" y="653">30 ° W</text>
<text x="485.1" y="653">0 °</text>
<text x="558.3" y="653">30 ° E</text>
<text x="631.5" y="653">60 ° E</text>
<text x="704.8" y="653">90 ° E</text>
<text x="778.0" y="653">120 ° E</text>
<text x="851.2" y="653">150 ° E</text>
<text x="924.5" y="653">180 ° E</text>
</g>
<text x="422.5" y="28" font-size="18" font-weight="bold">Stratocumulus</text>
<text x="382.8" y="50.6" font-size="13.5" font-weight="bold" letter-spacing="0.66">Frequency of Occurrence (%)</text>
<text x="45.3" y="100" font-size="12.75">May (1971 - 1996) Day</text>
<text x="925" y="100" font-size="12.85" text-anchor="end">Land Areas Only</text>
<text x="974.5" y="98" font-size="9.5" text-anchor="middle">ZONAL</text>
<text x="974.5" y="111" font-size="9.5" text-anchor="middle">AVERAGE</text>
<text x="396" y="685.8" font-size="10.7">GLOBAL AVERAGE (LAND)</text>
<text x="541" y="685.8" font-size="10.7">19.6 %</text>
<text x="263.3" y="719.8" font-size="13.2">(File name = lmcf05low.txt, MGRP = 9049, TYPE = 13, PCODE = 2, SN = 5)</text>
</svg>
</body></html>
